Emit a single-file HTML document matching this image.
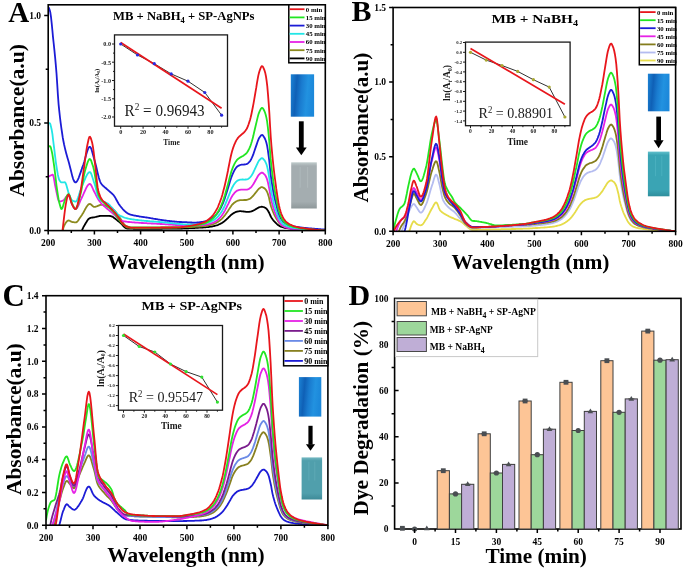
<!DOCTYPE html><html><head><meta charset="utf-8"><style>html,body{margin:0;padding:0;background:#fff;overflow:hidden}svg{display:block;will-change:transform;filter:blur(0.3px)}text{font-family:"Liberation Serif",serif}</style></head><body>
<svg width="685" height="571" viewBox="0 0 685 571">
<rect width="685" height="571" fill="#fff"/>
<clipPath id="clipA"><rect x="48.2" y="4.8" width="277.1" height="225.8"/></clipPath>
<g clip-path="url(#clipA)" fill="none" stroke-width="1.80" stroke-linejoin="round">
<path d="M79.6 241.3L80.3 237.5L81.0 234.1L81.7 231.3L82.4 229.4L83.1 227.8L83.8 226.4L84.5 225.3L85.1 224.2L85.8 223.0L86.5 221.9L87.2 220.8L87.9 219.8L88.6 218.9L89.3 218.4L90.0 218.1L90.7 217.9L91.4 217.7L92.1 217.6L92.8 217.5L93.5 217.4L94.2 217.3L94.8 217.2L95.5 217.0L96.2 216.8L96.9 216.6L97.6 216.5L98.3 216.3L99.0 216.1L99.7 216.0L100.4 215.9L101.1 215.8L101.8 215.8L102.5 215.8L103.2 215.8L103.9 215.8L104.5 215.8L105.2 215.8L105.9 215.8L106.6 215.8L107.3 215.9L108.0 215.9L108.7 215.9L109.4 215.9L110.1 216.0L110.8 216.1L111.5 216.3L112.2 216.6L112.9 216.9L113.5 217.4L114.2 217.9L114.9 218.4L115.6 219.0L116.3 219.5L117.0 220.1L117.7 220.7L118.4 221.3L119.1 221.8L119.8 222.4L120.5 223.0L121.2 223.7L121.9 224.4L122.6 225.1L123.2 225.9L123.9 226.6L124.6 227.2L125.3 227.7L126.0 228.1L126.7 228.4L127.4 228.5L128.1 228.5L128.8 228.6L129.5 228.6L130.2 228.6L130.9 228.7L131.6 228.7L132.3 228.7L132.9 228.7L133.6 228.8L134.3 228.8L135.0 228.8L135.7 228.8L136.4 228.8L137.1 228.9L137.8 228.9L138.5 228.9L139.2 228.9L139.9 228.9L140.6 228.9L141.3 228.9L142.0 228.9L142.6 228.9L143.3 228.9L144.0 228.9L144.7 228.9L145.4 228.9L146.1 228.9L146.8 228.9L147.5 228.9L148.2 228.9L148.9 228.9L149.6 228.9L150.3 228.9L151.0 228.8L151.7 228.8L152.3 228.8L153.0 228.8L153.7 228.8L154.4 228.8L155.1 228.8L155.8 228.8L156.5 228.8L157.2 228.8L157.9 228.8L158.6 228.8L159.3 228.8L160.0 228.8L160.7 228.8L161.3 228.8L162.0 228.8L162.7 228.7L163.4 228.7L164.1 228.7L164.8 228.7L165.5 228.7L166.2 228.7L166.9 228.7L167.6 228.7L168.3 228.7L169.0 228.7L169.7 228.7L170.4 228.7L171.0 228.7L171.7 228.6L172.4 228.6L173.1 228.6L173.8 228.6L174.5 228.6L175.2 228.6L175.9 228.6L176.6 228.6L177.3 228.6L178.0 228.6L178.7 228.6L179.4 228.5L180.1 228.5L180.7 228.5L181.4 228.5L182.1 228.5L182.8 228.4L183.5 228.4L184.2 228.4L184.9 228.4L185.6 228.4L186.3 228.3L187.0 228.3L187.7 228.3L188.4 228.3L189.1 228.2L189.8 228.2L190.4 228.2L191.1 228.2L191.8 228.1L192.5 228.1L193.2 228.1L193.9 228.0L194.6 228.0L195.3 227.9L196.0 227.9L196.7 227.9L197.4 227.8L198.1 227.8L198.8 227.7L199.5 227.7L200.1 227.7L200.8 227.6L201.5 227.6L202.2 227.5L202.9 227.5L203.6 227.4L204.3 227.4L205.0 227.3L205.7 227.3L206.4 227.2L207.1 227.1L207.8 227.1L208.5 227.0L209.1 226.9L209.8 226.8L210.5 226.7L211.2 226.6L211.9 226.5L212.6 226.4L213.3 226.2L214.0 226.1L214.7 225.9L215.4 225.7L216.1 225.5L216.8 225.3L217.5 225.1L218.2 224.8L218.8 224.5L219.5 224.2L220.2 223.9L220.9 223.5L221.6 223.1L222.3 222.7L223.0 222.2L223.7 221.7L224.4 221.2L225.1 220.6L225.8 220.0L226.5 219.4L227.2 218.7L227.9 218.1L228.5 217.4L229.2 216.8L229.9 216.1L230.6 215.4L231.3 214.8L232.0 214.3L232.7 213.8L233.4 213.3L234.1 212.9L234.8 212.5L235.5 212.2L236.2 211.9L236.9 211.7L237.6 211.5L238.2 211.4L238.9 211.3L239.6 211.2L240.3 211.2L241.0 211.2L241.7 211.3L242.4 211.3L243.1 211.4L243.8 211.5L244.5 211.6L245.2 211.7L245.9 211.8L246.6 211.8L247.3 211.9L247.9 211.9L248.6 211.9L249.3 211.8L250.0 211.7L250.7 211.6L251.4 211.4L252.1 211.1L252.8 210.8L253.5 210.5L254.2 210.2L254.9 209.8L255.6 209.3L256.3 208.9L256.9 208.5L257.6 208.1L258.3 207.7L259.0 207.4L259.7 207.2L260.4 207.0L261.1 206.8L261.8 206.7L262.5 206.8L263.2 207.0L263.9 207.2L264.6 207.5L265.3 207.8L266.0 208.3L266.6 208.9L267.3 209.7L268.0 210.7L268.7 212.0L269.4 213.3L270.1 215.0L270.8 216.5L271.5 217.7L272.2 218.7L272.9 219.7L273.6 220.6L274.3 221.4L275.0 222.1L275.7 222.8L276.3 223.4L277.0 224.1L277.7 224.7L278.4 225.3L279.1 225.7L279.8 226.1L280.5 226.5L281.2 226.8L281.9 227.0L282.6 227.2L283.3 227.4L284.0 227.6L284.7 227.8L285.4 227.9L286.0 228.0L286.7 228.1L287.4 228.2L288.1 228.3L288.8 228.3L289.5 228.4L290.2 228.5L290.9 228.5L291.6 228.6L292.3 228.7L293.0 228.7L293.7 228.8L294.4 228.8L295.0 228.9L295.7 228.9L296.4 229.0L297.1 229.0L297.8 229.1L298.5 229.1L299.2 229.1L299.9 229.2L300.6 229.2L301.3 229.3L302.0 229.3L302.7 229.3L303.4 229.4L304.1 229.4L304.7 229.4L305.4 229.5L306.1 229.5L306.8 229.6L307.5 229.6L308.2 229.6L308.9 229.7L309.6 229.7L310.3 229.7L311.0 229.8L311.7 229.8L312.4 229.9L313.1 229.9L313.8 229.9L314.4 230.0L315.1 230.0L315.8 230.0L316.5 230.1L317.2 230.1L317.9 230.2L318.6 230.2L319.3 230.2L320.0 230.3L320.7 230.3L321.4 230.4L322.1 230.4L322.8 230.5L323.5 230.5L324.1 230.5L324.8 230.6" stroke="#000000"/>
<path d="M61.1 241.3L61.8 236.6L62.5 232.1L63.2 228.6L63.9 226.3L64.6 224.9L65.3 223.6L66.0 222.5L66.7 221.6L67.4 220.9L68.1 220.6L68.8 220.5L69.4 220.7L70.1 221.0L70.8 221.4L71.5 221.8L72.2 222.0L72.9 222.1L73.6 222.2L74.3 222.3L75.0 222.4L75.7 222.4L76.4 222.3L77.1 221.8L77.8 221.0L78.5 220.1L79.1 219.0L79.8 217.9L80.5 216.9L81.2 215.9L81.9 214.9L82.6 213.8L83.3 212.7L84.0 211.4L84.7 210.1L85.4 208.8L86.1 207.6L86.8 206.5L87.5 205.5L88.1 204.8L88.8 204.2L89.5 204.0L90.2 204.0L90.9 204.4L91.6 205.0L92.3 205.7L93.0 206.3L93.7 206.8L94.4 206.9L95.1 206.9L95.8 206.7L96.5 206.5L97.2 206.2L97.8 205.9L98.5 205.6L99.2 205.3L99.9 205.0L100.6 204.9L101.3 204.8L102.0 204.8L102.7 204.9L103.4 205.1L104.1 205.3L104.8 205.5L105.5 205.8L106.2 206.1L106.9 206.4L107.5 206.7L108.2 206.9L108.9 207.2L109.6 207.5L110.3 207.8L111.0 208.1L111.7 208.4L112.4 208.8L113.1 209.3L113.8 209.8L114.5 210.5L115.2 211.4L115.9 212.3L116.6 213.2L117.2 214.2L117.9 215.2L118.6 216.2L119.3 217.1L120.0 218.0L120.7 219.0L121.4 220.0L122.1 221.2L122.8 222.3L123.5 223.4L124.2 224.5L124.9 225.5L125.6 226.3L126.2 227.0L126.9 227.4L127.6 227.6L128.3 227.6L129.0 227.7L129.7 227.7L130.4 227.8L131.1 227.8L131.8 227.8L132.5 227.9L133.2 227.9L133.9 227.9L134.6 227.9L135.3 228.0L135.9 228.0L136.6 228.0L137.3 228.0L138.0 228.0L138.7 228.0L139.4 228.0L140.1 228.0L140.8 228.0L141.5 228.0L142.2 228.0L142.9 228.0L143.6 228.0L144.3 228.0L145.0 228.0L145.6 228.0L146.3 228.0L147.0 228.0L147.7 228.0L148.4 228.0L149.1 228.0L149.8 228.0L150.5 227.9L151.2 227.9L151.9 227.9L152.6 227.9L153.3 227.9L154.0 227.9L154.7 227.9L155.3 227.9L156.0 227.9L156.7 227.8L157.4 227.8L158.1 227.8L158.8 227.8L159.5 227.8L160.2 227.8L160.9 227.8L161.6 227.7L162.3 227.7L163.0 227.7L163.7 227.7L164.4 227.7L165.0 227.7L165.7 227.7L166.4 227.6L167.1 227.6L167.8 227.6L168.5 227.6L169.2 227.6L169.9 227.6L170.6 227.6L171.3 227.5L172.0 227.5L172.7 227.5L173.4 227.5L174.0 227.5L174.7 227.5L175.4 227.5L176.1 227.5L176.8 227.5L177.5 227.4L178.2 227.4L178.9 227.4L179.6 227.4L180.3 227.4L181.0 227.4L181.7 227.3L182.4 227.3L183.1 227.3L183.7 227.2L184.4 227.2L185.1 227.2L185.8 227.2L186.5 227.1L187.2 227.1L187.9 227.1L188.6 227.1L189.3 227.0L190.0 227.0L190.7 227.0L191.4 227.0L192.1 226.9L192.8 226.9L193.4 226.9L194.1 226.8L194.8 226.8L195.5 226.7L196.2 226.7L196.9 226.7L197.6 226.6L198.3 226.6L199.0 226.5L199.7 226.5L200.4 226.4L201.1 226.4L201.8 226.3L202.5 226.2L203.1 226.2L203.8 226.1L204.5 226.0L205.2 225.9L205.9 225.8L206.6 225.7L207.3 225.6L208.0 225.5L208.7 225.4L209.4 225.2L210.1 225.0L210.8 224.9L211.5 224.7L212.2 224.5L212.8 224.3L213.5 224.0L214.2 223.7L214.9 223.4L215.6 223.1L216.3 222.8L217.0 222.4L217.7 222.0L218.4 221.6L219.1 221.1L219.8 220.5L220.5 220.0L221.2 219.4L221.8 218.8L222.5 218.0L223.2 217.3L223.9 216.4L224.6 215.6L225.3 214.7L226.0 213.7L226.7 212.7L227.4 211.7L228.1 210.7L228.8 209.6L229.5 208.6L230.2 207.5L230.9 206.5L231.5 205.5L232.2 204.7L232.9 204.0L233.6 203.3L234.3 202.7L235.0 202.2L235.7 201.7L236.4 201.3L237.1 201.0L237.8 200.7L238.5 200.5L239.2 200.4L239.9 200.2L240.6 200.2L241.2 200.1L241.9 200.1L242.6 200.1L243.3 200.1L244.0 200.0L244.7 200.0L245.4 200.0L246.1 200.0L246.8 199.9L247.5 199.7L248.2 199.5L248.9 199.2L249.6 198.9L250.3 198.5L250.9 198.0L251.6 197.4L252.3 196.7L253.0 196.0L253.7 195.2L254.4 194.3L255.1 193.4L255.8 192.5L256.5 191.6L257.2 190.7L257.9 189.8L258.6 189.0L259.3 188.4L260.0 187.9L260.6 187.5L261.3 187.2L262.0 187.1L262.7 187.3L263.4 187.7L264.1 188.1L264.8 188.6L265.5 189.4L266.2 190.3L266.9 191.5L267.6 193.1L268.3 195.3L269.0 197.6L269.6 200.5L270.3 203.6L271.0 206.2L271.7 208.3L272.4 210.2L273.1 212.0L273.8 213.6L274.5 215.1L275.2 216.5L275.9 217.7L276.6 219.0L277.3 220.1L278.0 221.3L278.7 222.3L279.3 223.1L280.0 223.9L280.7 224.5L281.4 225.0L282.1 225.5L282.8 225.8L283.5 226.2L284.2 226.5L284.9 226.7L285.6 226.9L286.3 227.1L287.0 227.3L287.7 227.4L288.4 227.6L289.0 227.7L289.7 227.8L290.4 227.9L291.1 228.0L291.8 228.1L292.5 228.2L293.2 228.3L293.9 228.4L294.6 228.5L295.3 228.6L296.0 228.6L296.7 228.7L297.4 228.8L298.1 228.8L298.7 228.9L299.4 228.9L300.1 229.0L300.8 229.0L301.5 229.1L302.2 229.1L302.9 229.2L303.6 229.2L304.3 229.3L305.0 229.3L305.7 229.4L306.4 229.4L307.1 229.5L307.8 229.5L308.4 229.6L309.1 229.6L309.8 229.7L310.5 229.7L311.2 229.7L311.9 229.8L312.6 229.8L313.3 229.9L314.0 229.9L314.7 230.0L315.4 230.0L316.1 230.0L316.8 230.1L317.4 230.1L318.1 230.2L318.8 230.2L319.5 230.3L320.2 230.3L320.9 230.3L321.6 230.4L322.3 230.4L323.0 230.5L323.7 230.5L324.4 230.5L325.1 230.6" stroke="#8c8a1e"/>
<path d="M48.2 176.8L48.9 176.4L49.6 176.0L50.3 175.7L51.0 175.3L51.7 175.0L52.4 174.7L53.0 174.9L53.7 177.2L54.4 181.1L55.1 185.3L55.8 188.6L56.5 192.0L57.2 195.4L57.9 198.5L58.6 200.7L59.3 201.6L60.0 201.5L60.7 201.4L61.4 201.2L62.1 200.9L62.7 200.6L63.4 200.2L64.1 199.6L64.8 198.8L65.5 197.8L66.2 196.9L66.9 196.1L67.6 195.5L68.3 195.1L69.0 195.5L69.7 197.0L70.4 199.2L71.1 201.6L71.8 203.8L72.4 205.2L73.1 206.4L73.8 207.5L74.5 208.4L75.2 209.0L75.9 209.1L76.6 208.6L77.3 207.6L78.0 206.3L78.7 204.8L79.4 203.1L80.1 201.4L80.8 199.7L81.5 198.3L82.1 197.0L82.8 195.6L83.5 194.0L84.2 192.4L84.9 190.8L85.6 189.3L86.3 187.8L87.0 186.6L87.7 185.5L88.4 184.7L89.1 184.1L89.8 183.9L90.5 184.3L91.2 185.1L91.8 186.4L92.5 187.9L93.2 189.5L93.9 191.0L94.6 192.3L95.3 193.7L96.0 195.1L96.7 196.5L97.4 197.8L98.1 199.1L98.8 200.2L99.5 201.1L100.2 202.0L100.8 202.8L101.5 203.5L102.2 204.3L102.9 205.0L103.6 205.7L104.3 206.3L105.0 206.9L105.7 207.5L106.4 208.1L107.1 208.7L107.8 209.3L108.5 209.8L109.2 210.4L109.9 210.9L110.5 211.5L111.2 212.0L111.9 212.6L112.6 213.2L113.3 213.8L114.0 214.5L114.7 215.1L115.4 215.8L116.1 216.5L116.8 217.2L117.5 217.9L118.2 218.5L118.9 219.1L119.6 219.6L120.2 220.1L120.9 220.5L121.6 220.8L122.3 221.0L123.0 221.1L123.7 221.3L124.4 221.4L125.1 221.5L125.8 221.6L126.5 221.7L127.2 221.8L127.9 221.9L128.6 222.0L129.3 222.0L129.9 222.1L130.6 222.2L131.3 222.2L132.0 222.3L132.7 222.3L133.4 222.4L134.1 222.4L134.8 222.5L135.5 222.6L136.2 222.6L136.9 222.7L137.6 222.7L138.3 222.7L139.0 222.8L139.6 222.8L140.3 222.9L141.0 222.9L141.7 223.0L142.4 223.0L143.1 223.0L143.8 223.1L144.5 223.1L145.2 223.2L145.9 223.2L146.6 223.2L147.3 223.3L148.0 223.3L148.6 223.3L149.3 223.4L150.0 223.4L150.7 223.4L151.4 223.5L152.1 223.5L152.8 223.5L153.5 223.6L154.2 223.6L154.9 223.7L155.6 223.7L156.3 223.7L157.0 223.8L157.7 223.8L158.3 223.8L159.0 223.9L159.7 223.9L160.4 224.0L161.1 224.0L161.8 224.0L162.5 224.1L163.2 224.1L163.9 224.2L164.6 224.2L165.3 224.3L166.0 224.3L166.7 224.3L167.4 224.4L168.0 224.4L168.7 224.5L169.4 224.5L170.1 224.6L170.8 224.6L171.5 224.7L172.2 224.7L172.9 224.8L173.6 224.8L174.3 224.9L175.0 224.9L175.7 225.0L176.4 225.0L177.1 225.1L177.7 225.1L178.4 225.2L179.1 225.2L179.8 225.3L180.5 225.3L181.2 225.3L181.9 225.3L182.6 225.4L183.3 225.4L184.0 225.4L184.7 225.4L185.4 225.4L186.1 225.4L186.8 225.4L187.4 225.4L188.1 225.5L188.8 225.5L189.5 225.5L190.2 225.5L190.9 225.5L191.6 225.5L192.3 225.5L193.0 225.5L193.7 225.5L194.4 225.4L195.1 225.4L195.8 225.4L196.4 225.4L197.1 225.4L197.8 225.3L198.5 225.3L199.2 225.3L199.9 225.2L200.6 225.2L201.3 225.1L202.0 225.1L202.7 225.0L203.4 225.0L204.1 224.9L204.8 224.8L205.5 224.7L206.1 224.6L206.8 224.5L207.5 224.4L208.2 224.2L208.9 224.0L209.6 223.9L210.3 223.7L211.0 223.4L211.7 223.2L212.4 223.0L213.1 222.7L213.8 222.3L214.5 222.0L215.2 221.6L215.8 221.2L216.5 220.7L217.2 220.2L217.9 219.6L218.6 219.0L219.3 218.3L220.0 217.6L220.7 216.8L221.4 216.0L222.1 215.1L222.8 214.1L223.5 213.0L224.2 211.8L224.9 210.6L225.5 209.3L226.2 208.0L226.9 206.6L227.6 205.2L228.3 203.8L229.0 202.3L229.7 200.8L230.4 199.3L231.1 197.9L231.8 196.7L232.5 195.6L233.2 194.6L233.9 193.7L234.5 192.9L235.2 192.2L235.9 191.6L236.6 191.1L237.3 190.6L238.0 190.3L238.7 190.1L239.4 189.9L240.1 189.8L240.8 189.7L241.5 189.6L242.2 189.7L242.9 189.7L243.6 189.7L244.2 189.7L244.9 189.7L245.6 189.7L246.3 189.7L247.0 189.6L247.7 189.4L248.4 189.1L249.1 188.8L249.8 188.3L250.5 187.8L251.2 187.1L251.9 186.2L252.6 185.3L253.3 184.3L253.9 183.2L254.6 182.0L255.3 180.7L256.0 179.5L256.7 178.3L257.4 177.0L258.1 175.8L258.8 174.8L259.5 174.2L260.2 173.5L260.9 173.0L261.6 172.7L262.3 172.7L263.0 173.0L263.6 173.6L264.3 174.2L265.0 175.0L265.7 176.1L266.4 177.5L267.1 179.3L267.8 181.9L268.5 185.0L269.2 188.3L269.9 192.5L270.6 196.7L271.3 200.0L272.0 202.8L272.7 205.3L273.3 207.7L274.0 209.8L274.7 211.8L275.4 213.6L276.1 215.3L276.8 217.0L277.5 218.6L278.2 220.1L278.9 221.5L279.6 222.5L280.3 223.5L281.0 224.3L281.7 224.9L282.3 225.5L283.0 226.0L283.7 226.4L284.4 226.8L285.1 227.1L285.8 227.3L286.5 227.6L287.2 227.8L287.9 228.0L288.6 228.2L289.3 228.3L290.0 228.4L290.7 228.6L291.4 228.7L292.0 228.8L292.7 228.9L293.4 229.0L294.1 229.1L294.8 229.2L295.5 229.3L296.2 229.3L296.9 229.4L297.6 229.5L298.3 229.5L299.0 229.6L299.7 229.6L300.4 229.7L301.1 229.7L301.7 229.8L302.4 229.8L303.1 229.8L303.8 229.9L304.5 229.9L305.2 230.0L305.9 230.0L306.6 230.0L307.3 230.1L308.0 230.1L308.7 230.1L309.4 230.1L310.1 230.2L310.8 230.2L311.4 230.2L312.1 230.3L312.8 230.3L313.5 230.3L314.2 230.3L314.9 230.3L315.6 230.4L316.3 230.4L317.0 230.4L317.7 230.4L318.4 230.5L319.1 230.5L319.8 230.5L320.5 230.5L321.1 230.5L321.8 230.5L322.5 230.6L323.2 230.6L323.9 230.6L324.6 230.6L325.3 230.6" stroke="#e622e6"/>
<path d="M48.2 123.1L48.9 123.1L49.6 123.1L50.3 124.1L51.0 126.7L51.7 129.8L52.4 133.8L53.0 139.1L53.7 144.6L54.4 150.2L55.1 156.2L55.8 161.8L56.5 166.5L57.2 170.8L57.9 174.9L58.6 178.1L59.3 180.1L60.0 181.1L60.7 182.0L61.4 182.4L62.1 182.4L62.7 182.4L63.4 182.3L64.1 182.3L64.8 182.2L65.5 182.9L66.2 184.6L66.9 186.9L67.6 189.6L68.3 192.1L69.0 194.0L69.7 195.7L70.4 197.5L71.1 199.0L71.8 200.1L72.4 200.6L73.1 201.0L73.8 201.2L74.5 201.4L75.2 201.6L75.9 201.5L76.6 200.9L77.3 199.6L78.0 197.8L78.7 195.8L79.4 193.5L80.1 191.3L80.8 189.3L81.5 187.6L82.1 186.1L82.8 184.4L83.5 182.7L84.2 181.0L84.9 179.3L85.6 177.7L86.3 176.2L87.0 174.8L87.7 173.7L88.4 172.9L89.1 172.3L89.8 172.1L90.5 172.6L91.2 173.7L91.8 175.4L92.5 177.5L93.2 179.7L93.9 181.9L94.6 184.0L95.3 186.3L96.0 189.0L96.7 191.8L97.4 194.4L98.1 196.5L98.8 198.0L99.5 198.8L100.2 199.5L100.8 200.0L101.5 200.5L102.2 200.9L102.9 201.2L103.6 201.6L104.3 201.9L105.0 202.2L105.7 202.5L106.4 202.8L107.1 203.2L107.8 203.6L108.5 204.1L109.2 204.7L109.9 205.4L110.5 206.1L111.2 206.8L111.9 207.6L112.6 208.4L113.3 209.3L114.0 210.1L114.7 210.9L115.4 211.7L116.1 212.5L116.8 213.2L117.5 213.9L118.2 214.5L118.9 215.0L119.6 215.4L120.2 215.8L120.9 216.1L121.6 216.4L122.3 216.7L123.0 217.0L123.7 217.3L124.4 217.5L125.1 217.8L125.8 218.0L126.5 218.2L127.2 218.4L127.9 218.5L128.6 218.7L129.3 218.8L129.9 218.9L130.6 219.1L131.3 219.2L132.0 219.3L132.7 219.4L133.4 219.5L134.1 219.6L134.8 219.7L135.5 219.8L136.2 219.9L136.9 220.0L137.6 220.0L138.3 220.1L139.0 220.2L139.6 220.3L140.3 220.4L141.0 220.4L141.7 220.5L142.4 220.6L143.1 220.6L143.8 220.7L144.5 220.8L145.2 220.8L145.9 220.9L146.6 221.0L147.3 221.0L148.0 221.1L148.6 221.1L149.3 221.2L150.0 221.3L150.7 221.3L151.4 221.4L152.1 221.4L152.8 221.5L153.5 221.5L154.2 221.6L154.9 221.6L155.6 221.7L156.3 221.7L157.0 221.8L157.7 221.8L158.3 221.9L159.0 222.0L159.7 222.0L160.4 222.1L161.1 222.1L161.8 222.2L162.5 222.2L163.2 222.3L163.9 222.4L164.6 222.4L165.3 222.5L166.0 222.6L166.7 222.6L167.4 222.7L168.0 222.8L168.7 222.8L169.4 222.9L170.1 223.0L170.8 223.1L171.5 223.1L172.2 223.2L172.9 223.3L173.6 223.4L174.3 223.4L175.0 223.5L175.7 223.6L176.4 223.7L177.1 223.8L177.7 223.8L178.4 223.9L179.1 224.0L179.8 224.0L180.5 224.1L181.2 224.1L181.9 224.2L182.6 224.2L183.3 224.3L184.0 224.3L184.7 224.3L185.4 224.3L186.1 224.4L186.8 224.4L187.4 224.4L188.1 224.4L188.8 224.5L189.5 224.5L190.2 224.5L190.9 224.5L191.6 224.5L192.3 224.5L193.0 224.5L193.7 224.4L194.4 224.4L195.1 224.4L195.8 224.3L196.4 224.3L197.1 224.3L197.8 224.2L198.5 224.2L199.2 224.1L199.9 224.0L200.6 224.0L201.3 223.9L202.0 223.8L202.7 223.7L203.4 223.6L204.1 223.5L204.8 223.4L205.5 223.2L206.1 223.1L206.8 222.9L207.5 222.7L208.2 222.5L208.9 222.3L209.6 222.0L210.3 221.8L211.0 221.5L211.7 221.2L212.4 220.8L213.1 220.4L213.8 220.0L214.5 219.6L215.2 219.0L215.8 218.5L216.5 217.9L217.2 217.3L217.9 216.5L218.6 215.8L219.3 214.9L220.0 214.0L220.7 213.0L221.4 212.0L222.1 210.9L222.8 209.6L223.5 208.3L224.2 206.8L224.9 205.4L225.5 203.8L226.2 202.1L226.9 200.4L227.6 198.7L228.3 196.9L229.0 195.1L229.7 193.3L230.4 191.5L231.1 189.8L231.8 188.3L232.5 187.0L233.2 185.7L233.9 184.6L234.5 183.7L235.2 182.8L235.9 182.0L236.6 181.4L237.3 180.8L238.0 180.4L238.7 180.1L239.4 179.9L240.1 179.7L240.8 179.6L241.5 179.6L242.2 179.5L242.9 179.5L243.6 179.6L244.2 179.6L244.9 179.6L245.6 179.5L246.3 179.5L247.0 179.3L247.7 179.1L248.4 178.7L249.1 178.2L249.8 177.6L250.5 176.9L251.2 176.0L251.9 174.9L252.6 173.8L253.3 172.5L253.9 171.2L254.6 169.7L255.3 168.1L256.0 166.6L256.7 165.1L257.4 163.6L258.1 162.1L258.8 160.9L259.5 160.0L260.2 159.3L260.9 158.6L261.6 158.2L262.3 158.2L263.0 158.6L263.6 159.3L264.3 160.1L265.0 161.1L265.7 162.5L266.4 164.1L267.1 166.4L267.8 169.5L268.5 173.3L269.2 177.5L269.9 182.6L270.6 187.8L271.3 191.8L272.0 195.2L272.7 198.4L273.3 201.3L274.0 204.0L274.7 206.4L275.4 208.6L276.1 210.7L276.8 212.8L277.5 214.7L278.2 216.7L278.9 218.3L279.6 219.6L280.3 220.8L281.0 221.8L281.7 222.6L282.3 223.3L283.0 223.9L283.7 224.4L284.4 224.9L285.1 225.3L285.8 225.6L286.5 225.9L287.2 226.2L287.9 226.4L288.6 226.6L289.3 226.8L290.0 227.0L290.7 227.2L291.4 227.3L292.0 227.5L292.7 227.6L293.4 227.8L294.1 227.9L294.8 228.0L295.5 228.1L296.2 228.2L296.9 228.3L297.6 228.4L298.3 228.5L299.0 228.6L299.7 228.6L300.4 228.7L301.1 228.8L301.7 228.9L302.4 228.9L303.1 229.0L303.8 229.1L304.5 229.1L305.2 229.2L305.9 229.2L306.6 229.3L307.3 229.4L308.0 229.4L308.7 229.5L309.4 229.5L310.1 229.6L310.8 229.6L311.4 229.7L312.1 229.7L312.8 229.8L313.5 229.8L314.2 229.9L314.9 229.9L315.6 230.0L316.3 230.0L317.0 230.1L317.7 230.1L318.4 230.2L319.1 230.2L319.8 230.3L320.5 230.3L321.1 230.4L321.8 230.4L322.5 230.4L323.2 230.5L323.9 230.5L324.6 230.6L325.3 230.6" stroke="#22e6e6"/>
<path d="M48.2 7.0L48.9 7.8L49.6 9.7L50.3 12.3L51.0 17.0L51.7 23.4L52.4 30.5L53.0 37.1L53.7 43.5L54.4 50.2L55.1 57.2L55.8 64.8L56.5 73.2L57.2 83.8L57.9 94.9L58.6 104.3L59.3 111.2L60.0 117.5L60.7 123.2L61.4 128.4L62.1 133.0L62.7 137.2L63.4 141.0L64.1 144.5L64.8 147.6L65.5 150.5L66.2 153.2L66.9 155.7L67.6 158.2L68.3 160.6L69.0 163.0L69.7 165.7L70.4 168.5L71.1 171.3L71.8 174.1L72.4 176.6L73.1 178.8L73.8 180.5L74.5 181.8L75.2 182.4L75.9 182.3L76.6 181.7L77.3 180.7L78.0 179.4L78.7 177.8L79.4 175.9L80.1 173.9L80.8 171.9L81.5 169.9L82.1 167.9L82.8 166.1L83.5 164.2L84.2 161.9L84.9 159.4L85.6 156.8L86.3 154.3L87.0 151.9L87.7 149.9L88.4 148.2L89.1 147.1L89.8 146.8L90.5 147.3L91.2 148.6L91.8 150.6L92.5 153.0L93.2 155.6L93.9 158.1L94.6 160.4L95.3 162.9L96.0 165.8L96.7 168.8L97.4 171.9L98.1 174.8L98.8 177.5L99.5 179.9L100.2 181.8L100.8 183.0L101.5 184.0L102.2 184.9L102.9 185.6L103.6 186.3L104.3 186.9L105.0 187.5L105.7 188.0L106.4 188.7L107.1 189.3L107.8 189.9L108.5 190.5L109.2 191.1L109.9 191.7L110.5 192.3L111.2 192.9L111.9 193.5L112.6 194.1L113.3 194.8L114.0 195.7L114.7 196.7L115.4 197.9L116.1 199.2L116.8 200.5L117.5 201.8L118.2 203.1L118.9 204.2L119.6 205.1L120.2 206.0L120.9 206.8L121.6 207.7L122.3 208.5L123.0 209.3L123.7 210.0L124.4 210.8L125.1 211.4L125.8 212.0L126.5 212.6L127.2 213.1L127.9 213.5L128.6 213.9L129.3 214.1L129.9 214.4L130.6 214.6L131.3 214.8L132.0 215.0L132.7 215.1L133.4 215.3L134.1 215.5L134.8 215.6L135.5 215.7L136.2 215.9L136.9 216.0L137.6 216.1L138.3 216.2L139.0 216.4L139.6 216.5L140.3 216.6L141.0 216.7L141.7 216.8L142.4 216.9L143.1 217.0L143.8 217.1L144.5 217.2L145.2 217.3L145.9 217.4L146.6 217.5L147.3 217.6L148.0 217.7L148.6 217.8L149.3 217.9L150.0 218.1L150.7 218.2L151.4 218.3L152.1 218.4L152.8 218.5L153.5 218.7L154.2 218.8L154.9 218.9L155.6 219.0L156.3 219.1L157.0 219.2L157.7 219.4L158.3 219.5L159.0 219.6L159.7 219.7L160.4 219.8L161.1 219.9L161.8 220.0L162.5 220.1L163.2 220.2L163.9 220.3L164.6 220.4L165.3 220.5L166.0 220.6L166.7 220.7L167.4 220.8L168.0 220.8L168.7 220.9L169.4 221.0L170.1 221.1L170.8 221.2L171.5 221.2L172.2 221.3L172.9 221.4L173.6 221.4L174.3 221.5L175.0 221.6L175.7 221.6L176.4 221.7L177.1 221.8L177.7 221.8L178.4 221.9L179.1 221.9L179.8 222.0L180.5 222.0L181.2 222.0L181.9 222.1L182.6 222.1L183.3 222.1L184.0 222.1L184.7 222.1L185.4 222.2L186.1 222.2L186.8 222.2L187.4 222.3L188.1 222.3L188.8 222.3L189.5 222.4L190.2 222.4L190.9 222.5L191.6 222.5L192.3 222.6L193.0 222.6L193.7 222.6L194.4 222.6L195.1 222.6L195.8 222.6L196.4 222.6L197.1 222.5L197.8 222.5L198.5 222.4L199.2 222.3L199.9 222.2L200.6 222.1L201.3 222.0L202.0 221.9L202.7 221.8L203.4 221.7L204.1 221.6L204.8 221.4L205.5 221.2L206.1 221.0L206.8 220.8L207.5 220.6L208.2 220.3L208.9 220.0L209.6 219.6L210.3 219.3L211.0 218.9L211.7 218.5L212.4 218.1L213.1 217.6L213.8 217.0L214.5 216.4L215.2 215.7L215.8 215.0L216.5 214.3L217.2 213.4L217.9 212.5L218.6 211.5L219.3 210.4L220.0 209.2L220.7 208.0L221.4 206.7L222.1 205.2L222.8 203.6L223.5 201.8L224.2 200.0L224.9 198.1L225.5 196.0L226.2 193.9L226.9 191.7L227.6 189.4L228.3 187.2L229.0 184.9L229.7 182.5L230.4 180.1L231.1 178.0L231.8 176.1L232.5 174.4L233.2 172.8L233.9 171.4L234.5 170.2L235.2 169.1L235.9 168.0L236.6 167.2L237.3 166.5L238.0 166.0L238.7 165.6L239.4 165.3L240.1 165.0L240.8 164.8L241.5 164.7L242.2 164.6L242.9 164.6L243.6 164.6L244.2 164.5L244.9 164.4L245.6 164.3L246.3 164.2L247.0 163.9L247.7 163.5L248.4 162.9L249.1 162.2L249.8 161.4L250.5 160.4L251.2 159.2L251.9 157.7L252.6 156.1L253.3 154.4L253.9 152.5L254.6 150.5L255.3 148.4L256.0 146.4L256.7 144.4L257.4 142.3L258.1 140.3L258.8 138.6L259.5 137.5L260.2 136.5L260.9 135.6L261.6 135.1L262.3 135.0L263.0 135.5L263.6 136.4L264.3 137.5L265.0 138.8L265.7 140.5L266.4 142.7L267.1 145.6L267.8 149.8L268.5 154.8L269.2 160.2L269.9 167.1L270.6 173.9L271.3 179.2L272.0 183.7L272.7 187.8L273.3 191.6L274.0 195.1L274.7 198.3L275.4 201.3L276.1 204.1L276.8 206.7L277.5 209.3L278.2 211.8L278.9 214.0L279.6 215.7L280.3 217.2L281.0 218.5L281.7 219.6L282.3 220.5L283.0 221.3L283.7 222.0L284.4 222.6L285.1 223.1L285.8 223.5L286.5 223.9L287.2 224.2L287.9 224.6L288.6 224.8L289.3 225.1L290.0 225.3L290.7 225.5L291.4 225.7L292.0 225.9L292.7 226.1L293.4 226.3L294.1 226.4L294.8 226.6L295.5 226.7L296.2 226.8L296.9 226.9L297.6 227.0L298.3 227.1L299.0 227.2L299.7 227.3L300.4 227.4L301.1 227.5L301.7 227.6L302.4 227.7L303.1 227.7L303.8 227.8L304.5 227.9L305.2 227.9L305.9 228.0L306.6 228.1L307.3 228.2L308.0 228.2L308.7 228.3L309.4 228.3L310.1 228.4L310.8 228.5L311.4 228.5L312.1 228.6L312.8 228.6L313.5 228.7L314.2 228.7L314.9 228.8L315.6 228.9L316.3 228.9L317.0 229.0L317.7 229.0L318.4 229.1L319.1 229.1L319.8 229.2L320.5 229.2L321.1 229.3L321.8 229.3L322.5 229.4L323.2 229.4L323.9 229.4L324.6 229.5L325.3 229.5" stroke="#1c1cd6"/>
<path d="M48.2 146.8L48.9 146.3L49.6 146.1L50.3 146.3L51.0 148.1L51.7 151.1L52.4 154.3L53.0 158.3L53.7 162.9L54.4 167.8L55.1 173.6L55.8 179.7L56.5 185.6L57.2 190.5L57.9 195.2L58.6 199.4L59.3 202.7L60.0 205.3L60.7 207.7L61.4 209.0L62.1 208.7L62.7 207.2L63.4 204.8L64.1 202.4L64.8 200.5L65.5 198.9L66.2 197.3L66.9 195.8L67.6 194.7L68.3 194.1L69.0 194.4L69.7 196.0L70.4 198.3L71.1 200.8L71.8 202.7L72.4 204.1L73.1 205.7L73.8 207.1L74.5 208.2L75.2 209.0L75.9 209.0L76.6 208.2L77.3 206.6L78.0 204.3L78.7 201.7L79.4 198.8L80.1 195.9L80.8 193.1L81.5 189.8L82.1 186.0L82.8 181.9L83.5 177.9L84.2 174.3L84.9 171.2L85.6 168.8L86.3 166.5L87.0 164.2L87.7 162.1L88.4 160.5L89.1 159.4L89.8 159.0L90.5 159.5L91.2 160.8L91.8 162.6L92.5 164.7L93.2 166.8L93.9 169.7L94.6 173.4L95.3 177.5L96.0 181.8L96.7 186.1L97.4 190.0L98.1 193.3L98.8 195.7L99.5 197.1L100.2 198.3L100.8 199.3L101.5 200.3L102.2 201.1L102.9 201.8L103.6 202.5L104.3 203.2L105.0 203.9L105.7 204.6L106.4 205.3L107.1 206.0L107.8 206.6L108.5 207.2L109.2 207.8L109.9 208.4L110.5 209.1L111.2 209.7L111.9 210.3L112.6 211.0L113.3 211.8L114.0 212.6L114.7 213.4L115.4 214.4L116.1 215.4L116.8 216.4L117.5 217.4L118.2 218.4L118.9 219.4L119.6 220.4L120.2 221.3L120.9 222.2L121.6 223.0L122.3 223.7L123.0 224.3L123.7 224.8L124.4 225.2L125.1 225.5L125.8 225.9L126.5 226.2L127.2 226.5L127.9 226.7L128.6 226.9L129.3 227.1L129.9 227.3L130.6 227.3L131.3 227.4L132.0 227.4L132.7 227.4L133.4 227.4L134.1 227.4L134.8 227.4L135.5 227.4L136.2 227.4L136.9 227.4L137.6 227.4L138.3 227.4L139.0 227.4L139.6 227.4L140.3 227.4L141.0 227.4L141.7 227.4L142.4 227.4L143.1 227.4L143.8 227.4L144.5 227.4L145.2 227.4L145.9 227.4L146.6 227.4L147.3 227.4L148.0 227.4L148.6 227.4L149.3 227.4L150.0 227.4L150.7 227.4L151.4 227.4L152.1 227.4L152.8 227.4L153.5 227.4L154.2 227.4L154.9 227.4L155.6 227.4L156.3 227.4L157.0 227.4L157.7 227.4L158.3 227.4L159.0 227.4L159.7 227.4L160.4 227.4L161.1 227.4L161.8 227.4L162.5 227.4L163.2 227.4L163.9 227.4L164.6 227.4L165.3 227.4L166.0 227.4L166.7 227.4L167.4 227.4L168.0 227.4L168.7 227.4L169.4 227.4L170.1 227.4L170.8 227.4L171.5 227.4L172.2 227.4L172.9 227.4L173.6 227.4L174.3 227.4L175.0 227.4L175.7 227.4L176.4 227.4L177.1 227.4L177.7 227.4L178.4 227.4L179.1 227.3L179.8 227.3L180.5 227.3L181.2 227.2L181.9 227.1L182.6 227.1L183.3 227.0L184.0 226.9L184.7 226.9L185.4 226.8L186.1 226.7L186.8 226.7L187.4 226.6L188.1 226.5L188.8 226.4L189.5 226.4L190.2 226.3L190.9 226.2L191.6 226.1L192.3 226.0L193.0 225.9L193.7 225.8L194.4 225.7L195.1 225.6L195.8 225.5L196.4 225.4L197.1 225.2L197.8 225.1L198.5 225.0L199.2 224.8L199.9 224.7L200.6 224.5L201.3 224.4L202.0 224.2L202.7 224.0L203.4 223.8L204.1 223.6L204.8 223.3L205.5 223.1L206.1 222.8L206.8 222.5L207.5 222.1L208.2 221.7L208.9 221.3L209.6 220.9L210.3 220.4L211.0 219.9L211.7 219.4L212.4 218.8L213.1 218.2L213.8 217.5L214.5 216.7L215.2 215.9L215.8 215.0L216.5 214.1L217.2 213.1L217.9 212.0L218.6 210.8L219.3 209.5L220.0 208.1L220.7 206.7L221.4 205.1L222.1 203.4L222.8 201.6L223.5 199.5L224.2 197.4L224.9 195.2L225.5 192.9L226.2 190.5L226.9 188.0L227.6 185.4L228.3 182.9L229.0 180.3L229.7 177.5L230.4 174.9L231.1 172.4L231.8 170.3L232.5 168.4L233.2 166.7L233.9 165.1L234.5 163.8L235.2 162.6L235.9 161.4L236.6 160.4L237.3 159.6L238.0 159.0L238.7 158.4L239.4 158.0L240.1 157.5L240.8 157.1L241.5 156.7L242.2 156.3L242.9 156.0L243.6 155.6L244.2 155.1L244.9 154.6L245.6 154.0L246.3 153.3L247.0 152.6L247.7 151.5L248.4 150.3L249.1 148.9L249.8 147.4L250.5 145.6L251.2 143.5L251.9 141.2L252.6 138.7L253.3 136.1L253.9 133.3L254.6 130.3L255.3 127.2L256.0 124.3L256.7 121.4L257.4 118.4L258.1 115.6L258.8 113.3L259.5 111.6L260.2 110.1L260.9 108.8L261.6 108.0L262.3 107.9L263.0 108.5L263.6 109.5L264.3 110.8L265.0 112.5L265.7 114.7L266.4 117.6L267.1 121.4L267.8 126.8L268.5 133.4L269.2 140.5L269.9 149.5L270.6 158.4L271.3 165.3L272.0 171.2L272.7 176.6L273.3 181.7L274.0 186.3L274.7 190.5L275.4 194.3L276.1 198.0L276.8 201.4L277.5 204.9L278.2 208.1L278.9 211.0L279.6 213.2L280.3 215.2L281.0 216.9L281.7 218.3L282.3 219.5L283.0 220.5L283.7 221.4L284.4 222.1L285.1 222.8L285.8 223.4L286.5 223.8L287.2 224.3L287.9 224.7L288.6 225.0L289.3 225.4L290.0 225.6L290.7 225.9L291.4 226.1L292.0 226.4L292.7 226.6L293.4 226.8L294.1 227.0L294.8 227.2L295.5 227.3L296.2 227.5L296.9 227.6L297.6 227.7L298.3 227.9L299.0 228.0L299.7 228.1L300.4 228.2L301.1 228.3L301.7 228.4L302.4 228.5L303.1 228.5L303.8 228.6L304.5 228.7L305.2 228.8L305.9 228.9L306.6 229.0L307.3 229.0L308.0 229.1L308.7 229.2L309.4 229.2L310.1 229.3L310.8 229.4L311.4 229.4L312.1 229.5L312.8 229.6L313.5 229.6L314.2 229.7L314.9 229.8L315.6 229.8L316.3 229.9L317.0 230.0L317.7 230.0L318.4 230.1L319.1 230.1L319.8 230.2L320.5 230.2L321.1 230.3L321.8 230.4L322.5 230.4L323.2 230.5L323.9 230.5L324.6 230.6L325.3 230.6" stroke="#22e622"/>
<path d="M60.2 252.1L60.9 245.2L61.6 238.6L62.3 232.3L63.0 226.3L63.7 220.3L64.4 214.4L65.1 209.0L65.7 204.8L66.4 201.2L67.1 197.9L67.8 195.4L68.5 194.5L69.2 195.3L69.9 197.5L70.6 200.1L71.3 202.6L72.0 204.2L72.7 205.6L73.4 206.9L74.1 208.0L74.8 208.8L75.4 209.1L76.1 208.5L76.8 207.0L77.5 204.8L78.2 202.1L78.9 199.2L79.6 196.2L80.3 192.9L81.0 188.8L81.7 184.2L82.4 179.2L83.1 174.2L83.8 169.2L84.5 164.5L85.1 159.6L85.8 154.5L86.5 149.7L87.2 145.7L87.9 142.5L88.6 139.3L89.3 137.1L90.0 136.7L90.7 137.9L91.4 140.0L92.1 142.4L92.8 145.9L93.5 150.7L94.2 156.4L94.8 162.3L95.5 168.0L96.2 174.6L96.9 181.5L97.6 187.2L98.3 190.7L99.0 193.1L99.7 195.2L100.4 196.9L101.1 198.3L101.8 199.4L102.5 200.3L103.2 201.1L103.9 201.7L104.5 202.3L105.2 202.9L105.9 203.5L106.6 204.2L107.3 204.9L108.0 205.5L108.7 206.2L109.4 206.9L110.1 207.6L110.8 208.2L111.5 208.9L112.2 209.6L112.9 210.4L113.5 211.1L114.2 211.8L114.9 212.6L115.6 213.4L116.3 214.3L117.0 215.2L117.7 216.3L118.4 217.4L119.1 218.5L119.8 219.6L120.5 220.7L121.2 221.8L121.9 222.8L122.6 223.6L123.2 224.4L123.9 224.9L124.6 225.3L125.3 225.7L126.0 226.1L126.7 226.4L127.4 226.7L128.1 227.0L128.8 227.2L129.5 227.4L130.2 227.5L130.9 227.6L131.6 227.6L132.3 227.6L132.9 227.6L133.6 227.6L134.3 227.6L135.0 227.6L135.7 227.6L136.4 227.6L137.1 227.6L137.8 227.6L138.5 227.6L139.2 227.6L139.9 227.6L140.6 227.6L141.3 227.6L142.0 227.6L142.6 227.6L143.3 227.6L144.0 227.6L144.7 227.6L145.4 227.6L146.1 227.6L146.8 227.6L147.5 227.6L148.2 227.6L148.9 227.6L149.6 227.6L150.3 227.6L151.0 227.6L151.7 227.6L152.3 227.6L153.0 227.6L153.7 227.6L154.4 227.6L155.1 227.6L155.8 227.6L156.5 227.6L157.2 227.6L157.9 227.6L158.6 227.6L159.3 227.6L160.0 227.6L160.7 227.5L161.3 227.5L162.0 227.5L162.7 227.5L163.4 227.5L164.1 227.5L164.8 227.5L165.5 227.5L166.2 227.5L166.9 227.5L167.6 227.5L168.3 227.5L169.0 227.5L169.7 227.5L170.4 227.5L171.0 227.5L171.7 227.5L172.4 227.4L173.1 227.4L173.8 227.4L174.5 227.4L175.2 227.4L175.9 227.4L176.6 227.4L177.3 227.4L178.0 227.4L178.7 227.4L179.4 227.3L180.1 227.3L180.7 227.2L181.4 227.1L182.1 227.0L182.8 227.0L183.5 226.9L184.2 226.8L184.9 226.7L185.6 226.6L186.3 226.5L187.0 226.4L187.7 226.3L188.4 226.2L189.1 226.1L189.8 226.0L190.4 225.9L191.1 225.7L191.8 225.6L192.5 225.5L193.2 225.4L193.9 225.2L194.6 225.1L195.3 224.9L196.0 224.8L196.7 224.6L197.4 224.4L198.1 224.3L198.8 224.1L199.5 223.9L200.1 223.7L200.8 223.5L201.5 223.2L202.2 223.0L202.9 222.7L203.6 222.4L204.3 222.1L205.0 221.8L205.7 221.5L206.4 221.1L207.1 220.6L207.8 220.1L208.5 219.6L209.1 219.0L209.8 218.4L210.5 217.8L211.2 217.1L211.9 216.4L212.6 215.6L213.3 214.8L214.0 213.8L214.7 212.8L215.4 211.6L216.1 210.4L216.8 209.2L217.5 207.8L218.2 206.3L218.8 204.7L219.5 203.0L220.2 201.1L220.9 199.2L221.6 197.2L222.3 194.9L223.0 192.3L223.7 189.6L224.4 186.9L225.1 184.0L225.8 180.9L226.5 177.7L227.2 174.4L227.9 171.0L228.5 167.7L229.2 164.3L229.9 160.7L230.6 157.3L231.3 154.2L232.0 151.6L232.7 149.3L233.4 147.1L234.1 145.2L234.8 143.6L235.5 142.0L236.2 140.6L236.9 139.4L237.6 138.4L238.2 137.6L238.9 136.9L239.6 136.2L240.3 135.6L241.0 135.0L241.7 134.4L242.4 133.8L243.1 133.2L243.8 132.6L244.5 131.8L245.2 131.0L245.9 130.0L246.6 129.0L247.3 127.7L247.9 126.1L248.6 124.2L249.3 122.1L250.0 119.9L250.7 117.3L251.4 114.2L252.1 110.8L252.8 107.3L253.5 103.6L254.2 99.7L254.9 95.5L255.6 91.3L256.3 87.4L256.9 83.3L257.6 79.3L258.3 75.6L259.0 72.7L259.7 70.5L260.4 68.6L261.1 67.0L261.8 66.1L262.5 66.3L263.2 67.3L263.9 68.9L264.6 70.7L265.3 73.1L266.0 76.5L266.6 80.6L267.3 86.4L268.0 94.4L268.7 103.4L269.4 113.7L270.1 126.2L270.8 137.5L271.5 146.2L272.2 153.8L272.9 161.0L273.6 167.6L274.3 173.5L275.0 179.0L275.7 184.1L276.3 188.9L277.0 193.5L277.7 198.1L278.4 202.4L279.1 205.9L279.8 208.8L280.5 211.3L281.2 213.5L281.9 215.2L282.6 216.7L283.3 218.0L284.0 219.2L284.7 220.1L285.4 221.0L286.0 221.7L286.7 222.3L287.4 222.8L288.1 223.4L288.8 223.8L289.5 224.2L290.2 224.6L290.9 224.9L291.6 225.2L292.3 225.5L293.0 225.8L293.7 226.1L294.4 226.3L295.0 226.5L295.7 226.7L296.4 226.9L297.1 227.1L297.8 227.2L298.5 227.4L299.2 227.5L299.9 227.7L300.6 227.8L301.3 227.9L302.0 228.0L302.7 228.1L303.4 228.2L304.1 228.3L304.7 228.4L305.4 228.5L306.1 228.6L306.8 228.7L307.5 228.8L308.2 228.9L308.9 229.0L309.6 229.1L310.3 229.1L311.0 229.2L311.7 229.3L312.4 229.4L313.1 229.5L313.8 229.5L314.4 229.6L315.1 229.7L315.8 229.8L316.5 229.8L317.2 229.9L317.9 230.0L318.6 230.0L319.3 230.1L320.0 230.2L320.7 230.2L321.4 230.3L322.1 230.4L322.8 230.4L323.5 230.5L324.1 230.5L324.8 230.6" stroke="#e8161c"/>
</g>
<rect x="48.2" y="4.8" width="277.1" height="225.8" fill="none" stroke="#000" stroke-width="1.6"/>
<path d="M48.2 230.6V234.6M71.3 230.6V233.1M94.4 230.6V234.6M117.5 230.6V233.1M140.6 230.6V234.6M163.7 230.6V233.1M186.8 230.6V234.6M209.8 230.6V233.1M232.9 230.6V234.6M256.0 230.6V233.1M279.1 230.6V234.6M302.2 230.6V233.1M325.3 230.6V234.6M48.2 230.6H44.2M48.2 123.1H44.2M48.2 15.6H44.2M48.2 176.8H45.7M48.2 69.3H45.7" stroke="#000" stroke-width="1.5" fill="none"/>
<text x="48.2" y="246.0" font-size="9.50" font-weight="bold" text-anchor="middle" fill="#000" >200</text>
<text x="94.4" y="246.0" font-size="9.50" font-weight="bold" text-anchor="middle" fill="#000" >300</text>
<text x="140.6" y="246.0" font-size="9.50" font-weight="bold" text-anchor="middle" fill="#000" >400</text>
<text x="186.8" y="246.0" font-size="9.50" font-weight="bold" text-anchor="middle" fill="#000" >500</text>
<text x="232.9" y="246.0" font-size="9.50" font-weight="bold" text-anchor="middle" fill="#000" >600</text>
<text x="279.1" y="246.0" font-size="9.50" font-weight="bold" text-anchor="middle" fill="#000" >700</text>
<text x="325.3" y="246.0" font-size="9.50" font-weight="bold" text-anchor="middle" fill="#000" >800</text>
<text x="41.0" y="233.9" font-size="9.50" font-weight="bold" text-anchor="end" fill="#000" >0.0</text>
<text x="41.0" y="126.4" font-size="9.50" font-weight="bold" text-anchor="end" fill="#000" >0.5</text>
<text x="41.0" y="18.9" font-size="9.50" font-weight="bold" text-anchor="end" fill="#000" >1.0</text>
<text x="185.9" y="269.2" font-size="21.00" font-weight="bold" text-anchor="middle" fill="#000" textLength="157.5" lengthAdjust="spacingAndGlyphs" >Wavelength (nm)</text>
<text x="0" y="0" font-size="21.00" font-weight="bold" text-anchor="middle" textLength="152.5" lengthAdjust="spacingAndGlyphs" transform="translate(24.0 120.4) rotate(-90)">Absorbance(a.u)</text>
<text x="8.2" y="22.3" font-size="29.00" font-weight="bold" text-anchor="start" fill="#000" >A</text>
<text x="113.0" y="20.2" font-size="13.5" font-weight="bold" textLength="141.5" lengthAdjust="spacingAndGlyphs">MB + NaBH<tspan font-size="9" dy="3">4</tspan><tspan dy="-3"> + SP-AgNPs</tspan></text>
<rect x="288.8" y="4.8" width="36.5" height="58.0" fill="#fff" stroke="#000" stroke-width="1.5"/>
<path d="M289.6 9.2H304.5" stroke="#e8161c" stroke-width="1.8"/>
<text x="305.8" y="11.6" font-size="6.80" font-weight="bold" text-anchor="start" fill="#000" >0 min</text>
<path d="M289.6 17.4H304.5" stroke="#22e622" stroke-width="1.8"/>
<text x="305.8" y="19.8" font-size="6.80" font-weight="bold" text-anchor="start" fill="#000" >15 min</text>
<path d="M289.6 25.6H304.5" stroke="#1c1cd6" stroke-width="1.8"/>
<text x="305.8" y="28.0" font-size="6.80" font-weight="bold" text-anchor="start" fill="#000" >30 min</text>
<path d="M289.6 33.8H304.5" stroke="#22e6e6" stroke-width="1.8"/>
<text x="305.8" y="36.2" font-size="6.80" font-weight="bold" text-anchor="start" fill="#000" >45 min</text>
<path d="M289.6 42.0H304.5" stroke="#e622e6" stroke-width="1.8"/>
<text x="305.8" y="44.4" font-size="6.80" font-weight="bold" text-anchor="start" fill="#000" >60 min</text>
<path d="M289.6 50.2H304.5" stroke="#8c8a1e" stroke-width="1.8"/>
<text x="305.8" y="52.6" font-size="6.80" font-weight="bold" text-anchor="start" fill="#000" >75 min</text>
<path d="M289.6 58.4H304.5" stroke="#000000" stroke-width="1.8"/>
<text x="305.8" y="60.8" font-size="6.80" font-weight="bold" text-anchor="start" fill="#000" >90 min</text>
<defs><linearGradient id="blA" x1="0" x2="1" y1="0" y2="0.15"><stop offset="0" stop-color="#1c84d6"/><stop offset="0.28" stop-color="#0f60b6"/><stop offset="0.5" stop-color="#1a7cd0"/><stop offset="0.75" stop-color="#2292e0"/><stop offset="1" stop-color="#1c88da"/></linearGradient><linearGradient id="grA" x1="0" x2="0" y1="0" y2="1"><stop offset="0" stop-color="#c0cccc"/><stop offset="0.08" stop-color="#a4adb0"/><stop offset="0.85" stop-color="#a4adb0"/><stop offset="1" stop-color="#8e989a"/></linearGradient></defs><rect x="290.8" y="74.3" width="23.3" height="42.4" fill="url(#blA)"/><rect x="298.9" y="121.3" width="4.8" height="26.7" fill="#000"/><path d="M295.9 147.5H306.7L301.3 155.3Z" fill="#000"/><rect x="291.2" y="162.3" width="25.6" height="46.2" fill="url(#grA)"/><rect x="299.6" y="166.9" width="1" height="20.8" fill="#c0cccc" opacity="0.4"/><rect x="307.1" y="166.9" width="1" height="20.8" fill="#c0cccc" opacity="0.4"/>
<rect x="114.5" y="34.9" width="113.0" height="91.3" fill="#fff" stroke="#1a1a1a" stroke-width="1.3"/><path d="M120.7 126.2V128.7M131.9 126.2V127.7M143.1 126.2V128.7M154.3 126.2V127.7M165.6 126.2V128.7M176.8 126.2V127.7M188.0 126.2V128.7M199.2 126.2V127.7M210.4 126.2V128.7M221.6 126.2V127.7M114.5 44.0H112.0M114.5 62.2H112.0M114.5 80.5H112.0M114.5 98.8H112.0M114.5 117.0H112.0M114.5 53.1H113.0M114.5 71.4H113.0M114.5 89.6H113.0M114.5 107.9H113.0" stroke="#1a1a1a" stroke-width="1" fill="none"/><text x="120.7" y="133.8" font-size="6.2" font-weight="bold" text-anchor="middle" fill="#222">0</text><text x="143.1" y="133.8" font-size="6.2" font-weight="bold" text-anchor="middle" fill="#222">20</text><text x="165.6" y="133.8" font-size="6.2" font-weight="bold" text-anchor="middle" fill="#222">40</text><text x="188.0" y="133.8" font-size="6.2" font-weight="bold" text-anchor="middle" fill="#222">60</text><text x="210.4" y="133.8" font-size="6.2" font-weight="bold" text-anchor="middle" fill="#222">80</text><text x="111.0" y="46.2" font-size="6.2" font-weight="bold" text-anchor="end" fill="#222">0.0</text><text x="111.0" y="64.5" font-size="6.2" font-weight="bold" text-anchor="end" fill="#222">-0.5</text><text x="111.0" y="82.7" font-size="6.2" font-weight="bold" text-anchor="end" fill="#222">-1.0</text><text x="111.0" y="101.0" font-size="6.2" font-weight="bold" text-anchor="end" fill="#222">-1.5</text><text x="111.0" y="119.2" font-size="6.2" font-weight="bold" text-anchor="end" fill="#222">-2.0</text><path d="M120.7 44.0 L137.5 55.0 L154.3 63.7 L171.2 73.9 L188.0 81.2 L204.8 92.5 L221.6 115.2" stroke="#333" stroke-width="1" fill="none"/><path d="M120.7 42.5L221.6 108.2" stroke="#e8161c" stroke-width="1.7"/><circle cx="120.7" cy="44.0" r="1.6" fill="#2a2ae0"/><circle cx="137.5" cy="55.0" r="1.6" fill="#2a2ae0"/><circle cx="154.3" cy="63.7" r="1.6" fill="#2a2ae0"/><circle cx="171.2" cy="73.9" r="1.6" fill="#2a2ae0"/><circle cx="188.0" cy="81.2" r="1.6" fill="#2a2ae0"/><circle cx="204.8" cy="92.5" r="1.6" fill="#2a2ae0"/><circle cx="221.6" cy="115.2" r="1.6" fill="#2a2ae0"/><text x="124.6" y="115.9" font-size="16.0" font-weight="normal" fill="#1a1a1a" textLength="80.0" lengthAdjust="spacingAndGlyphs">R<tspan font-size="9.9" dy="-5.8">2</tspan><tspan dy="5.8"> = 0.96943</tspan></text><text x="0" y="0" font-size="6.5" font-weight="bold" text-anchor="middle" fill="#1a1a1a" textLength="24.0" lengthAdjust="spacingAndGlyphs" transform="translate(98.5 80.8) rotate(-90)">ln(A<tspan font-size="3.6" dy="1.2">t</tspan><tspan dy="-1.2">/A</tspan><tspan font-size="3.6" dy="1.2">0</tspan><tspan dy="-1.2">)</tspan></text><text x="171.5" y="144.6" font-size="8.5" font-weight="bold" text-anchor="middle" fill="#1a1a1a" textLength="16.5" lengthAdjust="spacingAndGlyphs">Time</text>
<clipPath id="clipB"><rect x="393.1" y="7.5" width="282.5" height="223.8"/></clipPath>
<g clip-path="url(#clipB)" fill="none" stroke-width="1.80" stroke-linejoin="round">
<path d="M407.2 234.3L407.9 233.3L408.6 232.2L409.3 230.8L410.1 228.9L410.8 226.8L411.5 224.9L412.2 223.4L412.9 222.1L413.6 221.2L414.3 221.3L415.0 222.0L415.7 222.9L416.4 223.7L417.1 224.1L417.8 224.5L418.5 224.8L419.2 225.0L419.9 225.2L420.6 225.3L421.4 225.2L422.1 224.8L422.8 224.1L423.5 223.2L424.2 222.2L424.9 221.1L425.6 220.0L426.3 219.0L427.0 217.9L427.7 216.6L428.4 215.2L429.1 213.8L429.8 212.4L430.5 211.0L431.2 209.7L431.9 208.5L432.7 207.2L433.4 205.8L434.1 204.5L434.8 203.4L435.5 202.6L436.2 202.4L436.9 202.9L437.6 204.3L438.3 206.2L439.0 208.1L439.7 209.7L440.4 210.7L441.1 211.4L441.8 212.0L442.5 212.6L443.2 213.1L444.0 213.6L444.7 214.0L445.4 214.4L446.1 214.8L446.8 215.2L447.5 215.5L448.2 215.9L448.9 216.3L449.6 216.6L450.3 217.0L451.0 217.3L451.7 217.6L452.4 217.9L453.1 218.2L453.8 218.5L454.5 218.8L455.2 219.1L456.0 219.4L456.7 219.6L457.4 219.9L458.1 220.2L458.8 220.6L459.5 220.9L460.2 221.2L460.9 221.6L461.6 222.0L462.3 222.5L463.0 223.1L463.7 223.7L464.4 224.3L465.1 225.0L465.8 225.6L466.6 226.3L467.3 226.9L468.0 227.5L468.7 228.1L469.4 228.6L470.1 229.0L470.8 229.4L471.5 229.6L472.2 229.8L472.9 229.8L473.6 229.8L474.3 229.8L475.0 229.8L475.7 229.8L476.4 229.8L477.1 229.8L477.9 229.7L478.6 229.7L479.3 229.7L480.0 229.7L480.7 229.7L481.4 229.7L482.1 229.6L482.8 229.6L483.5 229.6L484.2 229.6L484.9 229.6L485.6 229.5L486.3 229.5L487.0 229.5L487.7 229.5L488.4 229.5L489.2 229.5L489.9 229.5L490.6 229.4L491.3 229.4L492.0 229.4L492.7 229.4L493.4 229.4L494.1 229.4L494.8 229.4L495.5 229.4L496.2 229.3L496.9 229.3L497.6 229.3L498.3 229.3L499.0 229.3L499.7 229.3L500.5 229.3L501.2 229.2L501.9 229.2L502.6 229.2L503.3 229.2L504.0 229.2L504.7 229.2L505.4 229.2L506.1 229.2L506.8 229.1L507.5 229.1L508.2 229.1L508.9 229.1L509.6 229.1L510.3 229.1L511.0 229.1L511.8 229.0L512.5 229.0L513.2 229.0L513.9 229.0L514.6 229.0L515.3 229.0L516.0 228.9L516.7 228.9L517.4 228.9L518.1 228.9L518.8 228.9L519.5 228.8L520.2 228.8L520.9 228.8L521.6 228.8L522.3 228.8L523.1 228.7L523.8 228.7L524.5 228.7L525.2 228.7L525.9 228.6L526.6 228.6L527.3 228.6L528.0 228.5L528.7 228.5L529.4 228.5L530.1 228.4L530.8 228.4L531.5 228.3L532.2 228.3L532.9 228.2L533.6 228.2L534.4 228.1L535.1 228.1L535.8 228.0L536.5 228.0L537.2 228.0L537.9 227.9L538.6 227.9L539.3 227.8L540.0 227.8L540.7 227.7L541.4 227.7L542.1 227.6L542.8 227.6L543.5 227.6L544.2 227.5L544.9 227.5L545.7 227.4L546.4 227.4L547.1 227.3L547.8 227.2L548.5 227.2L549.2 227.1L549.9 227.0L550.6 226.9L551.3 226.9L552.0 226.8L552.7 226.7L553.4 226.6L554.1 226.5L554.8 226.3L555.5 226.2L556.2 226.0L557.0 225.9L557.7 225.7L558.4 225.5L559.1 225.3L559.8 225.1L560.5 224.8L561.2 224.6L561.9 224.3L562.6 224.0L563.3 223.6L564.0 223.3L564.7 222.9L565.4 222.5L566.1 222.0L566.8 221.5L567.5 221.0L568.2 220.4L569.0 219.8L569.7 219.1L570.4 218.4L571.1 217.6L571.8 216.8L572.5 215.9L573.2 214.9L573.9 214.0L574.6 212.9L575.3 211.9L576.0 210.8L576.7 209.7L577.4 208.6L578.1 207.4L578.8 206.3L579.6 205.3L580.3 204.4L581.0 203.5L581.7 202.8L582.4 202.1L583.1 201.6L583.8 201.0L584.5 200.6L585.2 200.1L585.9 199.8L586.6 199.5L587.3 199.3L588.0 199.1L588.7 199.0L589.4 198.8L590.1 198.7L590.9 198.6L591.6 198.5L592.3 198.4L593.0 198.2L593.7 198.1L594.4 197.9L595.1 197.7L595.8 197.5L596.5 197.1L597.2 196.7L597.9 196.2L598.6 195.6L599.3 195.0L600.0 194.2L600.7 193.3L601.4 192.4L602.2 191.4L602.9 190.3L603.6 189.1L604.3 188.0L605.0 186.8L605.7 185.7L606.4 184.5L607.1 183.4L607.8 182.5L608.5 181.9L609.2 181.3L609.9 180.8L610.6 180.5L611.3 180.4L612.0 180.7L612.7 181.2L613.5 181.7L614.2 182.4L614.9 183.3L615.6 184.5L616.3 186.0L617.0 188.2L617.7 190.9L618.4 193.7L619.1 197.4L619.8 201.0L620.5 203.8L621.2 206.2L621.9 208.3L622.6 210.4L623.3 212.3L624.0 213.9L624.8 215.5L625.5 217.0L626.2 218.4L626.9 219.8L627.6 221.1L628.3 222.3L629.0 223.2L629.7 224.0L630.4 224.7L631.1 225.3L631.8 225.8L632.5 226.2L633.2 226.6L633.9 226.9L634.6 227.2L635.3 227.4L636.0 227.6L636.8 227.8L637.5 228.0L638.2 228.1L638.9 228.3L639.6 228.4L640.3 228.5L641.0 228.6L641.7 228.7L642.4 228.9L643.1 228.9L643.8 229.0L644.5 229.1L645.2 229.2L645.9 229.3L646.6 229.4L647.4 229.4L648.1 229.5L648.8 229.5L649.5 229.6L650.2 229.7L650.9 229.7L651.6 229.8L652.3 229.8L653.0 229.9L653.7 229.9L654.4 230.0L655.1 230.0L655.8 230.1L656.5 230.1L657.2 230.2L657.9 230.2L658.7 230.3L659.4 230.3L660.1 230.4L660.8 230.4L661.5 230.4L662.2 230.5L662.9 230.5L663.6 230.6L664.3 230.6L665.0 230.7L665.7 230.7L666.4 230.8L667.1 230.8L667.8 230.8L668.5 230.9L669.2 230.9L670.0 231.0L670.7 231.0L671.4 231.1L672.1 231.1L672.8 231.1L673.5 231.2L674.2 231.2L674.9 231.3L675.6 231.3" stroke="#e6dc4a"/>
<path d="M400.2 234.3L400.9 232.8L401.6 231.3L402.3 229.7L403.0 228.0L403.7 226.2L404.4 224.2L405.1 222.1L405.8 219.9L406.5 217.7L407.2 215.7L407.9 213.9L408.6 212.4L409.3 210.8L410.1 209.2L410.8 207.7L411.5 206.3L412.2 205.2L412.9 204.4L413.6 204.0L414.3 204.2L415.0 204.9L415.7 206.0L416.4 207.1L417.1 208.1L417.8 209.2L418.5 210.3L419.2 211.4L419.9 212.2L420.6 212.6L421.4 212.5L422.1 212.0L422.8 211.1L423.5 209.9L424.2 208.5L424.9 207.0L425.6 205.4L426.3 203.9L427.0 202.1L427.7 200.0L428.4 197.7L429.1 195.2L429.8 192.7L430.5 190.3L431.2 188.0L431.9 185.8L432.7 183.5L433.4 181.0L434.1 178.6L434.8 176.5L435.5 175.1L436.2 174.6L436.9 175.4L437.6 177.3L438.3 180.0L439.0 182.7L439.7 185.4L440.4 188.8L441.1 192.4L441.8 195.9L442.5 198.7L443.2 200.5L444.0 201.8L444.7 202.9L445.4 203.9L446.1 204.8L446.8 205.5L447.5 206.3L448.2 207.0L448.9 207.7L449.6 208.3L450.3 208.9L451.0 209.4L451.7 209.9L452.4 210.4L453.1 210.9L453.8 211.5L454.5 212.1L455.2 212.9L456.0 213.6L456.7 214.5L457.4 215.3L458.1 216.2L458.8 217.1L459.5 217.9L460.2 218.7L460.9 219.4L461.6 220.0L462.3 220.7L463.0 221.5L463.7 222.2L464.4 222.9L465.1 223.6L465.8 224.3L466.6 225.0L467.3 225.6L468.0 226.2L468.7 226.7L469.4 227.2L470.1 227.6L470.8 227.9L471.5 228.2L472.2 228.3L472.9 228.3L473.6 228.3L474.3 228.3L475.0 228.3L475.7 228.3L476.4 228.2L477.1 228.2L477.9 228.1L478.6 228.1L479.3 228.1L480.0 228.0L480.7 228.0L481.4 227.9L482.1 227.9L482.8 227.8L483.5 227.8L484.2 227.7L484.9 227.7L485.6 227.6L486.3 227.6L487.0 227.6L487.7 227.6L488.4 227.5L489.2 227.5L489.9 227.5L490.6 227.4L491.3 227.4L492.0 227.4L492.7 227.4L493.4 227.3L494.1 227.3L494.8 227.3L495.5 227.3L496.2 227.3L496.9 227.2L497.6 227.2L498.3 227.2L499.0 227.2L499.7 227.1L500.5 227.1L501.2 227.1L501.9 227.1L502.6 227.1L503.3 227.0L504.0 227.0L504.7 227.0L505.4 227.0L506.1 227.0L506.8 226.9L507.5 226.9L508.2 226.9L508.9 226.9L509.6 226.9L510.3 226.8L511.0 226.8L511.8 226.8L512.5 226.8L513.2 226.8L513.9 226.7L514.6 226.7L515.3 226.7L516.0 226.7L516.7 226.6L517.4 226.6L518.1 226.6L518.8 226.6L519.5 226.5L520.2 226.5L520.9 226.5L521.6 226.5L522.3 226.4L523.1 226.4L523.8 226.4L524.5 226.4L525.2 226.3L525.9 226.3L526.6 226.3L527.3 226.2L528.0 226.2L528.7 226.1L529.4 226.0L530.1 226.0L530.8 225.9L531.5 225.8L532.2 225.8L532.9 225.7L533.6 225.6L534.4 225.6L535.1 225.5L535.8 225.5L536.5 225.4L537.2 225.3L537.9 225.3L538.6 225.2L539.3 225.1L540.0 225.1L540.7 225.0L541.4 224.9L542.1 224.9L542.8 224.8L543.5 224.7L544.2 224.6L544.9 224.5L545.7 224.4L546.4 224.3L547.1 224.2L547.8 224.1L548.5 224.0L549.2 223.8L549.9 223.7L550.6 223.6L551.3 223.4L552.0 223.3L552.7 223.1L553.4 222.9L554.1 222.7L554.8 222.5L555.5 222.2L556.2 221.9L557.0 221.6L557.7 221.3L558.4 220.9L559.1 220.5L559.8 220.1L560.5 219.7L561.2 219.3L561.9 218.7L562.6 218.1L563.3 217.5L564.0 216.8L564.7 216.1L565.4 215.4L566.1 214.5L566.8 213.6L567.5 212.6L568.2 211.5L569.0 210.4L569.7 209.2L570.4 207.9L571.1 206.5L571.8 204.9L572.5 203.3L573.2 201.6L573.9 199.8L574.6 197.9L575.3 195.9L576.0 194.0L576.7 192.0L577.4 190.0L578.1 187.8L578.8 185.8L579.6 183.8L580.3 182.2L581.0 180.7L581.7 179.4L582.4 178.2L583.1 177.1L583.8 176.1L584.5 175.3L585.2 174.5L585.9 173.9L586.6 173.4L587.3 173.0L588.0 172.6L588.7 172.4L589.4 172.1L590.1 171.8L590.9 171.7L591.6 171.5L592.3 171.3L593.0 171.0L593.7 170.7L594.4 170.4L595.1 170.1L595.8 169.6L596.5 169.0L597.2 168.2L597.9 167.3L598.6 166.2L599.3 165.1L600.0 163.6L600.7 162.0L601.4 160.2L602.2 158.4L602.9 156.5L603.6 154.3L604.3 152.2L605.0 150.1L605.7 148.0L606.4 145.9L607.1 143.9L607.8 142.2L608.5 141.0L609.2 139.9L609.9 139.0L610.6 138.5L611.3 138.4L612.0 138.9L612.7 139.7L613.5 140.7L614.2 141.9L614.9 143.6L615.6 145.7L616.3 148.6L617.0 152.6L617.7 157.4L618.4 162.7L619.1 169.3L619.8 176.0L620.5 181.1L621.2 185.5L621.9 189.5L622.6 193.2L623.3 196.6L624.0 199.7L624.8 202.6L625.5 205.3L626.2 207.9L626.9 210.4L627.6 212.9L628.3 215.0L629.0 216.6L629.7 218.1L630.4 219.4L631.1 220.5L631.8 221.3L632.5 222.1L633.2 222.8L633.9 223.4L634.6 223.9L635.3 224.3L636.0 224.7L636.8 225.0L637.5 225.4L638.2 225.7L638.9 225.9L639.6 226.2L640.3 226.4L641.0 226.6L641.7 226.8L642.4 227.0L643.1 227.1L643.8 227.3L644.5 227.5L645.2 227.6L645.9 227.7L646.6 227.9L647.4 228.0L648.1 228.1L648.8 228.2L649.5 228.3L650.2 228.4L650.9 228.5L651.6 228.6L652.3 228.7L653.0 228.8L653.7 228.9L654.4 229.0L655.1 229.1L655.8 229.2L656.5 229.2L657.2 229.3L657.9 229.4L658.7 229.5L659.4 229.6L660.1 229.6L660.8 229.7L661.5 229.8L662.2 229.9L662.9 230.0L663.6 230.0L664.3 230.1L665.0 230.2L665.7 230.3L666.4 230.4L667.1 230.4L667.8 230.5L668.5 230.6L669.2 230.7L670.0 230.7L670.7 230.8L671.4 230.9L672.1 231.0L672.8 231.0L673.5 231.1L674.2 231.2L674.9 231.2L675.6 231.3" stroke="#b4bcf0"/>
<path d="M397.8 234.3L398.5 232.3L399.2 230.5L399.9 228.8L400.6 227.4L401.3 226.1L402.0 225.0L402.8 223.9L403.5 222.9L404.2 221.7L404.9 220.4L405.6 218.8L406.3 216.9L407.0 214.7L407.7 212.3L408.4 209.9L409.1 207.4L409.8 205.2L410.5 202.9L411.2 200.3L411.9 197.7L412.6 195.6L413.3 194.2L414.1 193.9L414.8 194.7L415.5 196.1L416.2 197.6L416.9 198.9L417.6 200.2L418.3 201.7L419.0 203.1L419.7 204.2L420.4 204.9L421.1 205.0L421.8 204.4L422.5 203.3L423.2 201.8L423.9 200.0L424.6 198.0L425.4 196.0L426.1 194.0L426.8 191.8L427.5 189.1L428.2 186.1L428.9 182.9L429.6 179.7L430.3 176.7L431.0 173.9L431.7 171.6L432.4 169.5L433.1 167.2L433.8 165.1L434.5 163.3L435.2 161.9L435.9 161.2L436.7 161.6L437.4 163.5L438.1 166.3L438.8 169.6L439.5 172.7L440.2 176.3L440.9 180.4L441.6 184.3L442.3 187.6L443.0 190.6L443.7 193.4L444.4 195.8L445.1 197.5L445.8 198.9L446.5 200.2L447.2 201.2L448.0 202.1L448.7 203.0L449.4 203.7L450.1 204.2L450.8 204.8L451.5 205.3L452.2 205.7L452.9 206.2L453.6 206.8L454.3 207.4L455.0 208.2L455.7 209.0L456.4 209.9L457.1 210.8L457.8 211.8L458.5 212.8L459.3 213.9L460.0 214.9L460.7 216.0L461.4 217.2L462.1 218.5L462.8 219.8L463.5 221.1L464.2 222.2L464.9 223.1L465.6 223.8L466.3 224.4L467.0 225.0L467.7 225.5L468.4 226.0L469.1 226.4L469.8 226.8L470.6 227.1L471.3 227.4L472.0 227.5L472.7 227.6L473.4 227.6L474.1 227.6L474.8 227.5L475.5 227.5L476.2 227.5L476.9 227.5L477.6 227.4L478.3 227.4L479.0 227.4L479.7 227.3L480.4 227.3L481.1 227.2L481.9 227.2L482.6 227.1L483.3 227.1L484.0 227.0L484.7 227.0L485.4 226.9L486.1 226.9L486.8 226.9L487.5 226.8L488.2 226.8L488.9 226.7L489.6 226.7L490.3 226.6L491.0 226.6L491.7 226.5L492.4 226.5L493.2 226.4L493.9 226.4L494.6 226.3L495.3 226.3L496.0 226.2L496.7 226.2L497.4 226.1L498.1 226.1L498.8 226.0L499.5 226.0L500.2 225.9L500.9 225.9L501.6 225.8L502.3 225.8L503.0 225.7L503.7 225.7L504.5 225.7L505.2 225.6L505.9 225.6L506.6 225.5L507.3 225.5L508.0 225.5L508.7 225.4L509.4 225.4L510.1 225.4L510.8 225.3L511.5 225.3L512.2 225.3L512.9 225.3L513.6 225.2L514.3 225.2L515.0 225.2L515.8 225.1L516.5 225.1L517.2 225.1L517.9 225.1L518.6 225.0L519.3 225.0L520.0 225.0L520.7 225.0L521.4 224.9L522.1 224.9L522.8 224.9L523.5 224.9L524.2 224.8L524.9 224.8L525.6 224.8L526.3 224.8L527.1 224.7L527.8 224.7L528.5 224.6L529.2 224.5L529.9 224.5L530.6 224.4L531.3 224.3L532.0 224.2L532.7 224.2L533.4 224.1L534.1 224.0L534.8 224.0L535.5 223.9L536.2 223.8L536.9 223.7L537.6 223.7L538.4 223.6L539.1 223.5L539.8 223.4L540.5 223.4L541.2 223.3L541.9 223.2L542.6 223.1L543.3 223.0L544.0 223.0L544.7 222.9L545.4 222.8L546.1 222.7L546.8 222.6L547.5 222.5L548.2 222.4L548.9 222.2L549.7 222.1L550.4 222.0L551.1 221.8L551.8 221.7L552.5 221.5L553.2 221.3L553.9 221.1L554.6 220.9L555.3 220.6L556.0 220.3L556.7 220.0L557.4 219.7L558.1 219.3L558.8 218.9L559.5 218.5L560.2 218.0L561.0 217.5L561.7 217.0L562.4 216.4L563.1 215.7L563.8 214.9L564.5 214.1L565.2 213.3L565.9 212.4L566.6 211.4L567.3 210.3L568.0 209.1L568.7 207.8L569.4 206.5L570.1 205.1L570.8 203.5L571.5 201.7L572.3 199.9L573.0 197.9L573.7 195.9L574.4 193.8L575.1 191.5L575.8 189.3L576.5 187.0L577.2 184.7L577.9 182.3L578.6 179.9L579.3 177.6L580.0 175.6L580.7 173.8L581.4 172.2L582.1 170.8L582.8 169.5L583.6 168.4L584.3 167.4L585.0 166.4L585.7 165.6L586.4 165.1L587.1 164.6L587.8 164.2L588.5 163.8L589.2 163.5L589.9 163.2L590.6 163.0L591.3 162.8L592.0 162.6L592.7 162.3L593.4 162.0L594.1 161.7L594.9 161.3L595.6 160.8L596.3 160.2L597.0 159.3L597.7 158.3L598.4 157.2L599.1 155.9L599.8 154.3L600.5 152.5L601.2 150.5L601.9 148.4L602.6 146.3L603.3 143.8L604.0 141.3L604.7 138.9L605.4 136.5L606.2 134.0L606.9 131.6L607.6 129.5L608.3 128.0L609.0 126.7L609.7 125.6L610.4 124.8L611.1 124.5L611.8 124.9L612.5 125.7L613.2 126.8L613.9 128.1L614.6 129.9L615.3 132.2L616.0 135.1L616.7 139.3L617.5 144.7L618.2 150.6L618.9 157.7L619.6 165.7L620.3 172.2L621.0 177.5L621.7 182.2L622.4 186.7L623.1 190.8L623.8 194.5L624.5 197.9L625.2 201.1L625.9 204.1L626.6 207.0L627.3 209.9L628.0 212.5L628.8 214.6L629.5 216.4L630.2 217.9L630.9 219.2L631.6 220.3L632.3 221.2L633.0 222.0L633.7 222.8L634.4 223.4L635.1 223.9L635.8 224.3L636.5 224.7L637.2 225.1L637.9 225.4L638.6 225.7L639.3 226.0L640.1 226.3L640.8 226.5L641.5 226.7L642.2 226.9L642.9 227.1L643.6 227.3L644.3 227.5L645.0 227.7L645.7 227.8L646.4 227.9L647.1 228.1L647.8 228.2L648.5 228.3L649.2 228.4L649.9 228.5L650.6 228.6L651.4 228.7L652.1 228.8L652.8 228.9L653.5 229.0L654.2 229.1L654.9 229.2L655.6 229.3L656.3 229.4L657.0 229.4L657.7 229.5L658.4 229.6L659.1 229.7L659.8 229.8L660.5 229.8L661.2 229.9L661.9 230.0L662.7 230.1L663.4 230.1L664.1 230.2L664.8 230.3L665.5 230.3L666.2 230.4L666.9 230.5L667.6 230.6L668.3 230.6L669.0 230.7L669.7 230.8L670.4 230.8L671.1 230.9L671.8 231.0L672.5 231.0L673.2 231.1L674.0 231.2L674.7 231.2L675.4 231.3" stroke="#847c1c"/>
<path d="M395.5 234.3L396.2 231.8L396.9 229.5L397.6 227.4L398.3 225.7L399.0 224.0L399.7 222.5L400.4 221.1L401.1 220.0L401.8 219.1L402.5 218.5L403.2 218.1L403.9 217.7L404.6 217.1L405.3 216.4L406.0 214.9L406.8 212.6L407.5 209.6L408.2 206.4L408.9 203.1L409.6 200.1L410.3 197.7L411.0 195.2L411.7 192.6L412.4 190.3L413.1 188.7L413.8 188.0L414.5 188.5L415.2 189.7L415.9 191.1L416.6 192.5L417.3 193.9L418.1 195.5L418.8 197.2L419.5 198.6L420.2 199.6L420.9 200.0L421.6 199.5L422.3 198.4L423.0 196.7L423.7 194.6L424.4 192.2L425.1 189.8L425.8 187.3L426.5 184.9L427.2 182.0L427.9 178.8L428.6 175.3L429.4 171.8L430.1 168.3L430.8 165.0L431.5 162.1L432.2 159.4L432.9 156.5L433.6 153.6L434.3 150.9L435.0 148.8L435.7 147.6L436.4 147.4L437.1 149.1L437.8 152.2L438.5 155.9L439.2 159.7L439.9 163.7L440.7 168.4L441.4 173.2L442.1 177.6L442.8 181.8L443.5 186.1L444.2 189.9L444.9 192.5L445.6 194.3L446.3 195.7L447.0 196.9L447.7 197.9L448.4 198.9L449.1 199.8L449.8 200.7L450.5 201.4L451.2 202.1L452.0 202.8L452.7 203.5L453.4 204.2L454.1 204.9L454.8 205.7L455.5 206.6L456.2 207.5L456.9 208.4L457.6 209.3L458.3 210.3L459.0 211.3L459.7 212.3L460.4 213.4L461.1 214.7L461.8 216.0L462.5 217.4L463.3 218.8L464.0 220.1L464.7 221.2L465.4 222.1L466.1 222.8L466.8 223.4L467.5 224.1L468.2 224.7L468.9 225.2L469.6 225.7L470.3 226.2L471.0 226.5L471.7 226.7L472.4 226.8L473.1 226.8L473.8 226.8L474.6 226.8L475.3 226.8L476.0 226.8L476.7 226.8L477.4 226.8L478.1 226.8L478.8 226.8L479.5 226.8L480.2 226.8L480.9 226.8L481.6 226.8L482.3 226.8L483.0 226.8L483.7 226.8L484.4 226.8L485.1 226.8L485.9 226.8L486.6 226.8L487.3 226.8L488.0 226.8L488.7 226.8L489.4 226.8L490.1 226.8L490.8 226.8L491.5 226.7L492.2 226.7L492.9 226.7L493.6 226.6L494.3 226.6L495.0 226.5L495.7 226.5L496.4 226.4L497.2 226.4L497.9 226.3L498.6 226.3L499.3 226.2L500.0 226.2L500.7 226.1L501.4 226.1L502.1 226.0L502.8 225.9L503.5 225.9L504.2 225.8L504.9 225.8L505.6 225.7L506.3 225.6L507.0 225.6L507.7 225.5L508.5 225.5L509.2 225.4L509.9 225.4L510.6 225.3L511.3 225.3L512.0 225.3L512.7 225.2L513.4 225.2L514.1 225.1L514.8 225.1L515.5 225.0L516.2 225.0L516.9 224.9L517.6 224.9L518.3 224.8L519.0 224.8L519.8 224.7L520.5 224.7L521.2 224.6L521.9 224.6L522.6 224.5L523.3 224.5L524.0 224.4L524.7 224.4L525.4 224.3L526.1 224.3L526.8 224.2L527.5 224.1L528.2 224.0L528.9 224.0L529.6 223.9L530.3 223.8L531.1 223.6L531.8 223.5L532.5 223.4L533.2 223.3L533.9 223.2L534.6 223.1L535.3 223.1L536.0 223.0L536.7 222.9L537.4 222.8L538.1 222.7L538.8 222.6L539.5 222.5L540.2 222.4L540.9 222.3L541.6 222.2L542.4 222.1L543.1 222.0L543.8 221.9L544.5 221.8L545.2 221.7L545.9 221.6L546.6 221.5L547.3 221.3L548.0 221.2L548.7 221.1L549.4 220.9L550.1 220.8L550.8 220.6L551.5 220.4L552.2 220.2L552.9 220.0L553.7 219.8L554.4 219.5L555.1 219.2L555.8 218.8L556.5 218.5L557.2 218.0L557.9 217.6L558.6 217.1L559.3 216.6L560.0 216.1L560.7 215.5L561.4 214.9L562.1 214.2L562.8 213.4L563.5 212.5L564.2 211.6L565.0 210.6L565.7 209.5L566.4 208.4L567.1 207.1L567.8 205.7L568.5 204.3L569.2 202.7L569.9 201.1L570.6 199.2L571.3 197.2L572.0 195.0L572.7 192.7L573.4 190.4L574.1 187.9L574.8 185.3L575.5 182.6L576.3 179.9L577.0 177.2L577.7 174.3L578.4 171.4L579.1 168.6L579.8 166.1L580.5 164.0L581.2 162.0L581.9 160.2L582.6 158.6L583.3 157.2L584.0 156.0L584.7 154.8L585.4 153.8L586.1 153.0L586.8 152.4L587.6 151.9L588.3 151.5L589.0 151.1L589.7 150.8L590.4 150.5L591.1 150.2L591.8 150.0L592.5 149.7L593.2 149.3L593.9 148.9L594.6 148.5L595.3 148.0L596.0 147.3L596.7 146.3L597.4 145.2L598.1 143.9L598.9 142.4L599.6 140.7L600.3 138.6L601.0 136.3L601.7 133.8L602.4 131.3L603.1 128.5L603.8 125.6L604.5 122.6L605.2 119.8L605.9 116.9L606.6 113.9L607.3 111.3L608.0 109.2L608.7 107.7L609.4 106.3L610.2 105.1L610.9 104.6L611.6 104.7L612.3 105.6L613.0 106.8L613.7 108.2L614.4 110.1L615.1 112.7L615.8 115.8L616.5 120.2L617.2 126.3L617.9 133.1L618.6 140.9L619.3 150.4L620.0 158.9L620.7 165.5L621.5 171.3L622.2 176.7L622.9 181.7L623.6 186.2L624.3 190.3L625.0 194.2L625.7 197.9L626.4 201.4L627.1 204.9L627.8 208.1L628.5 210.8L629.2 213.0L629.9 214.9L630.6 216.6L631.3 217.9L632.0 219.0L632.8 220.1L633.5 221.0L634.2 221.7L634.9 222.4L635.6 222.9L636.3 223.4L637.0 223.9L637.7 224.3L638.4 224.7L639.1 225.0L639.8 225.3L640.5 225.6L641.2 225.8L641.9 226.1L642.6 226.3L643.3 226.5L644.1 226.8L644.8 227.0L645.5 227.1L646.2 227.3L646.9 227.5L647.6 227.6L648.3 227.7L649.0 227.9L649.7 228.0L650.4 228.1L651.1 228.2L651.8 228.3L652.5 228.5L653.2 228.6L653.9 228.7L654.6 228.8L655.4 228.9L656.1 229.0L656.8 229.1L657.5 229.2L658.2 229.3L658.9 229.4L659.6 229.5L660.3 229.5L661.0 229.6L661.7 229.7L662.4 229.8L663.1 229.9L663.8 230.0L664.5 230.1L665.2 230.2L665.9 230.2L666.7 230.3L667.4 230.4L668.1 230.5L668.8 230.6L669.5 230.7L670.2 230.7L670.9 230.8L671.6 230.9L672.3 231.0L673.0 231.0L673.7 231.1L674.4 231.2L675.1 231.3" stroke="#e622e6"/>
<path d="M403.5 234.3L404.2 232.3L404.9 230.0L405.6 227.4L406.3 224.2L407.0 220.5L407.7 216.6L408.4 212.7L409.1 208.9L409.8 205.5L410.5 202.4L411.2 199.0L411.9 195.8L412.6 193.1L413.3 191.4L414.1 191.1L414.8 191.9L415.5 193.2L416.2 194.7L416.9 195.9L417.6 197.1L418.3 198.4L419.0 199.7L419.7 200.7L420.4 201.3L421.1 201.4L421.8 200.8L422.5 199.7L423.2 198.1L423.9 196.2L424.6 194.1L425.4 191.8L426.1 189.5L426.8 186.9L427.5 183.5L428.2 179.6L428.9 175.3L429.6 171.0L430.3 166.9L431.0 163.0L431.7 159.7L432.4 156.5L433.1 153.1L433.8 149.8L434.5 147.0L435.2 144.9L435.9 143.8L436.7 144.2L437.4 146.5L438.1 150.0L438.8 154.0L439.5 158.1L440.2 163.1L440.9 168.8L441.6 174.4L442.3 179.1L443.0 183.5L443.7 187.6L444.4 190.9L445.1 193.1L445.8 194.7L446.5 196.1L447.2 197.2L448.0 198.2L448.7 199.2L449.4 200.2L450.1 201.1L450.8 201.9L451.5 202.7L452.2 203.5L452.9 204.3L453.6 205.1L454.3 205.9L455.0 206.8L455.7 207.7L456.4 208.6L457.1 209.5L457.8 210.5L458.5 211.4L459.3 212.4L460.0 213.4L460.7 214.5L461.4 215.7L462.1 217.0L462.8 218.2L463.5 219.5L464.2 220.6L464.9 221.6L465.6 222.3L466.3 223.0L467.0 223.6L467.7 224.3L468.4 224.9L469.1 225.4L469.8 225.9L470.6 226.3L471.3 226.6L472.0 226.8L472.7 226.8L473.4 226.8L474.1 226.8L474.8 226.8L475.5 226.8L476.2 226.8L476.9 226.8L477.6 226.8L478.3 226.8L479.0 226.8L479.7 226.8L480.4 226.8L481.1 226.8L481.9 226.8L482.6 226.8L483.3 226.8L484.0 226.8L484.7 226.8L485.4 226.8L486.1 226.8L486.8 226.8L487.5 226.8L488.2 226.8L488.9 226.8L489.6 226.8L490.3 226.8L491.0 226.8L491.7 226.7L492.4 226.7L493.2 226.7L493.9 226.6L494.6 226.6L495.3 226.5L496.0 226.5L496.7 226.4L497.4 226.4L498.1 226.3L498.8 226.3L499.5 226.2L500.2 226.2L500.9 226.1L501.6 226.0L502.3 226.0L503.0 225.9L503.7 225.9L504.5 225.8L505.2 225.7L505.9 225.7L506.6 225.6L507.3 225.6L508.0 225.5L508.7 225.5L509.4 225.4L510.1 225.4L510.8 225.3L511.5 225.3L512.2 225.2L512.9 225.2L513.6 225.2L514.3 225.1L515.0 225.1L515.8 225.0L516.5 225.0L517.2 224.9L517.9 224.9L518.6 224.8L519.3 224.8L520.0 224.7L520.7 224.7L521.4 224.6L522.1 224.6L522.8 224.5L523.5 224.5L524.2 224.4L524.9 224.4L525.6 224.3L526.3 224.3L527.1 224.2L527.8 224.1L528.5 224.0L529.2 223.9L529.9 223.8L530.6 223.7L531.3 223.6L532.0 223.4L532.7 223.3L533.4 223.2L534.1 223.1L534.8 223.0L535.5 222.9L536.2 222.8L536.9 222.7L537.6 222.6L538.4 222.5L539.1 222.4L539.8 222.3L540.5 222.2L541.2 222.1L541.9 222.0L542.6 221.9L543.3 221.8L544.0 221.7L544.7 221.5L545.4 221.4L546.1 221.3L546.8 221.1L547.5 221.0L548.2 220.8L548.9 220.7L549.7 220.5L550.4 220.3L551.1 220.1L551.8 219.9L552.5 219.6L553.2 219.4L553.9 219.1L554.6 218.8L555.3 218.4L556.0 218.1L556.7 217.6L557.4 217.2L558.1 216.7L558.8 216.1L559.5 215.6L560.2 215.0L561.0 214.3L561.7 213.6L562.4 212.8L563.1 211.9L563.8 211.0L564.5 210.0L565.2 208.9L565.9 207.7L566.6 206.5L567.3 205.1L568.0 203.6L568.7 202.1L569.4 200.4L570.1 198.7L570.8 196.7L571.5 194.5L572.3 192.2L573.0 189.9L573.7 187.4L574.4 184.8L575.1 182.0L575.8 179.3L576.5 176.5L577.2 173.7L577.9 170.7L578.6 167.8L579.3 165.0L580.0 162.6L580.7 160.5L581.4 158.5L582.1 156.8L582.8 155.3L583.6 154.0L584.3 152.7L585.0 151.6L585.7 150.7L586.4 149.9L587.1 149.3L587.8 148.7L588.5 148.2L589.2 147.7L589.9 147.2L590.6 146.7L591.3 146.3L592.0 145.8L592.7 145.2L593.4 144.6L594.1 143.9L594.9 143.1L595.6 142.2L596.3 141.0L597.0 139.6L597.7 138.0L598.4 136.2L599.1 134.2L599.8 131.9L600.5 129.2L601.2 126.4L601.9 123.4L602.6 120.3L603.3 116.8L604.0 113.3L604.7 109.9L605.4 106.6L606.2 103.1L606.9 99.8L607.6 96.9L608.3 94.7L609.0 93.0L609.7 91.4L610.4 90.3L611.1 89.8L611.8 90.3L612.5 91.3L613.2 92.8L613.9 94.5L614.6 96.8L615.3 99.9L616.0 103.7L616.7 109.3L617.5 116.5L618.2 124.3L618.9 133.9L619.6 144.4L620.3 153.1L621.0 160.1L621.7 166.5L622.4 172.4L623.1 177.9L623.8 182.7L624.5 187.3L625.2 191.5L625.9 195.6L626.6 199.5L627.3 203.3L628.0 206.8L628.8 209.5L629.5 211.9L630.2 214.0L630.9 215.7L631.6 217.1L632.3 218.3L633.0 219.4L633.7 220.4L634.4 221.2L635.1 221.9L635.8 222.5L636.5 223.0L637.2 223.5L637.9 223.9L638.6 224.3L639.3 224.7L640.1 225.0L640.8 225.3L641.5 225.6L642.2 225.8L642.9 226.1L643.6 226.3L644.3 226.6L645.0 226.8L645.7 227.0L646.4 227.2L647.1 227.3L647.8 227.5L648.5 227.6L649.2 227.7L649.9 227.9L650.6 228.0L651.4 228.1L652.1 228.2L652.8 228.4L653.5 228.5L654.2 228.6L654.9 228.7L655.6 228.8L656.3 228.9L657.0 229.0L657.7 229.1L658.4 229.2L659.1 229.3L659.8 229.4L660.5 229.5L661.2 229.6L661.9 229.7L662.7 229.8L663.4 229.9L664.1 230.0L664.8 230.1L665.5 230.1L666.2 230.2L666.9 230.3L667.6 230.4L668.3 230.5L669.0 230.6L669.7 230.7L670.4 230.7L671.1 230.8L671.8 230.9L672.5 231.0L673.2 231.1L674.0 231.1L674.7 231.2L675.4 231.3" stroke="#1c1cd6"/>
<path d="M392.6 234.3L393.3 230.9L394.0 227.7L394.7 224.6L395.5 221.6L396.2 218.9L396.9 216.4L397.6 214.1L398.3 211.9L399.0 210.1L399.7 208.8L400.4 207.9L401.1 207.2L401.8 206.7L402.5 206.1L403.2 205.5L403.9 204.6L404.6 203.3L405.3 200.8L406.0 197.5L406.8 193.7L407.5 189.9L408.2 186.5L408.9 183.4L409.6 180.2L410.3 177.1L411.0 174.4L411.7 172.2L412.4 170.6L413.1 169.2L413.8 168.6L414.5 169.1L415.2 170.3L415.9 171.7L416.6 173.1L417.3 174.6L418.1 176.4L418.8 178.2L419.5 179.8L420.2 180.9L420.9 181.3L421.6 180.9L422.3 179.7L423.0 178.0L423.7 175.8L424.4 173.3L425.1 170.7L425.8 168.0L426.5 165.2L427.2 161.5L427.9 157.3L428.6 152.6L429.4 147.8L430.1 143.2L430.8 138.9L431.5 135.3L432.2 132.3L432.9 129.3L433.6 126.3L434.3 123.6L435.0 121.5L435.7 120.3L436.4 120.2L437.1 122.8L437.8 127.5L438.5 133.2L439.2 138.8L439.9 144.6L440.7 151.3L441.4 158.1L442.1 164.2L442.8 169.8L443.5 175.4L444.2 180.2L444.9 183.6L445.6 185.8L446.3 187.5L447.0 188.9L447.7 190.3L448.4 191.5L449.1 192.7L449.8 193.8L450.5 194.8L451.2 195.8L452.0 197.0L452.7 198.3L453.4 199.7L454.1 201.1L454.8 202.3L455.5 203.2L456.2 204.0L456.9 204.7L457.6 205.4L458.3 205.9L459.0 206.6L459.7 207.2L460.4 207.9L461.1 208.6L461.8 209.4L462.5 210.1L463.3 210.9L464.0 211.6L464.7 212.4L465.4 213.1L466.1 213.9L466.8 214.6L467.5 215.4L468.2 216.3L468.9 217.3L469.6 218.2L470.3 219.1L471.0 219.9L471.7 220.5L472.4 220.8L473.1 220.9L473.8 221.0L474.6 221.0L475.3 221.1L476.0 221.2L476.7 221.2L477.4 221.3L478.1 221.4L478.8 221.5L479.5 221.7L480.2 221.8L480.9 221.9L481.6 222.0L482.3 222.2L483.0 222.3L483.7 222.4L484.4 222.6L485.1 222.7L485.9 222.9L486.6 223.0L487.3 223.2L488.0 223.3L488.7 223.6L489.4 223.8L490.1 224.0L490.8 224.2L491.5 224.4L492.2 224.7L492.9 224.9L493.6 225.0L494.3 225.2L495.0 225.3L495.7 225.4L496.4 225.5L497.2 225.5L497.9 225.5L498.6 225.5L499.3 225.5L500.0 225.4L500.7 225.4L501.4 225.4L502.1 225.4L502.8 225.3L503.5 225.3L504.2 225.2L504.9 225.2L505.6 225.2L506.3 225.1L507.0 225.1L507.7 225.0L508.5 225.0L509.2 224.9L509.9 224.9L510.6 224.9L511.3 224.8L512.0 224.8L512.7 224.7L513.4 224.7L514.1 224.7L514.8 224.6L515.5 224.6L516.2 224.5L516.9 224.5L517.6 224.4L518.3 224.4L519.0 224.3L519.8 224.2L520.5 224.2L521.2 224.1L521.9 224.1L522.6 224.0L523.3 224.0L524.0 223.9L524.7 223.8L525.4 223.8L526.1 223.7L526.8 223.6L527.5 223.5L528.2 223.4L528.9 223.3L529.6 223.1L530.3 223.0L531.1 222.9L531.8 222.7L532.5 222.6L533.2 222.5L533.9 222.4L534.6 222.2L535.3 222.1L536.0 222.0L536.7 221.9L537.4 221.8L538.1 221.7L538.8 221.5L539.5 221.4L540.2 221.3L540.9 221.2L541.6 221.1L542.4 220.9L543.1 220.8L543.8 220.7L544.5 220.5L545.2 220.4L545.9 220.2L546.6 220.1L547.3 219.9L548.0 219.7L548.7 219.6L549.4 219.4L550.1 219.2L550.8 218.9L551.5 218.7L552.2 218.4L552.9 218.2L553.7 217.9L554.4 217.5L555.1 217.1L555.8 216.7L556.5 216.2L557.2 215.7L557.9 215.1L558.6 214.5L559.3 213.9L560.0 213.2L560.7 212.5L561.4 211.7L562.1 210.8L562.8 209.8L563.5 208.7L564.2 207.5L565.0 206.3L565.7 204.9L566.4 203.4L567.1 201.8L567.8 200.1L568.5 198.3L569.2 196.3L569.9 194.2L570.6 191.9L571.3 189.3L572.0 186.6L572.7 183.7L573.4 180.8L574.1 177.6L574.8 174.3L575.5 170.9L576.3 167.5L577.0 164.1L577.7 160.6L578.4 156.9L579.1 153.4L579.8 150.2L580.5 147.5L581.2 145.0L581.9 142.8L582.6 140.8L583.3 139.1L584.0 137.5L584.7 136.0L585.4 134.8L586.1 133.8L586.8 133.0L587.6 132.4L588.3 131.8L589.0 131.3L589.7 130.9L590.4 130.5L591.1 130.2L591.8 129.9L592.5 129.5L593.2 129.0L593.9 128.6L594.6 128.0L595.3 127.3L596.0 126.4L596.7 125.2L597.4 123.8L598.1 122.1L598.9 120.3L599.6 118.1L600.3 115.5L601.0 112.6L601.7 109.5L602.4 106.4L603.1 102.8L603.8 99.1L604.5 95.4L605.2 91.8L605.9 88.2L606.6 84.5L607.3 81.2L608.0 78.5L608.7 76.6L609.4 74.8L610.2 73.4L610.9 72.7L611.6 72.9L612.3 73.9L613.0 75.5L613.7 77.2L614.4 79.6L615.1 82.8L615.8 86.7L616.5 92.3L617.2 99.9L617.9 108.5L618.6 118.3L619.3 130.1L620.0 140.8L620.7 149.1L621.5 156.3L622.2 163.1L622.9 169.5L623.6 175.1L624.3 180.3L625.0 185.2L625.7 189.8L626.4 194.2L627.1 198.5L627.8 202.6L628.5 205.9L629.2 208.7L629.9 211.1L630.6 213.2L631.3 214.9L632.0 216.3L632.8 217.6L633.5 218.7L634.2 219.6L634.9 220.4L635.6 221.1L636.3 221.7L637.0 222.3L637.7 222.8L638.4 223.3L639.1 223.7L639.8 224.1L640.5 224.4L641.2 224.7L641.9 225.0L642.6 225.3L643.3 225.6L644.1 225.9L644.8 226.1L645.5 226.3L646.2 226.5L646.9 226.7L647.6 226.9L648.3 227.1L649.0 227.2L649.7 227.4L650.4 227.5L651.1 227.7L651.8 227.8L652.5 227.9L653.2 228.1L653.9 228.2L654.6 228.3L655.4 228.4L656.1 228.6L656.8 228.7L657.5 228.8L658.2 228.9L658.9 229.0L659.6 229.1L660.3 229.2L661.0 229.3L661.7 229.4L662.4 229.5L663.1 229.6L663.8 229.7L664.5 229.9L665.2 230.0L665.9 230.1L666.7 230.2L667.4 230.3L668.1 230.4L668.8 230.4L669.5 230.5L670.2 230.6L670.9 230.7L671.6 230.8L672.3 230.9L673.0 231.0L673.7 231.1L674.4 231.2L675.1 231.2" stroke="#22e622"/>
<path d="M393.1 234.3L393.8 231.8L394.5 229.8L395.2 228.3L395.9 227.0L396.6 225.8L397.3 224.7L398.0 223.8L398.8 222.8L399.5 221.9L400.2 221.0L400.9 220.3L401.6 219.6L402.3 219.0L403.0 218.3L403.7 217.4L404.4 216.4L405.1 214.9L405.8 213.0L406.5 210.7L407.2 208.1L407.9 205.4L408.6 202.3L409.3 198.4L410.1 194.2L410.8 190.5L411.5 187.6L412.2 184.6L412.9 182.1L413.6 180.7L414.3 180.9L415.0 182.2L415.7 184.1L416.4 186.0L417.1 187.7L417.8 189.9L418.5 192.1L419.2 194.2L419.9 195.8L420.6 196.6L421.4 196.5L422.1 195.7L422.8 194.3L423.5 192.5L424.2 190.3L424.9 187.9L425.6 185.3L426.3 182.6L427.0 178.9L427.7 174.1L428.4 168.5L429.1 162.5L429.8 156.4L430.5 150.5L431.2 145.0L431.9 140.2L432.7 135.1L433.4 129.8L434.1 124.7L434.8 120.5L435.5 117.5L436.2 116.4L436.9 118.7L437.6 124.5L438.3 132.1L439.0 139.6L439.7 146.1L440.4 153.2L441.1 160.2L441.8 166.7L442.5 172.4L443.2 178.0L444.0 183.0L444.7 187.0L445.4 189.9L446.1 192.2L446.8 194.2L447.5 195.8L448.2 197.0L448.9 198.0L449.6 198.9L450.3 199.7L451.0 200.5L451.7 201.2L452.4 201.8L453.1 202.4L453.8 203.1L454.5 203.7L455.2 204.4L456.0 205.2L456.7 206.0L457.4 206.9L458.1 207.7L458.8 208.7L459.5 209.7L460.2 210.8L460.9 212.2L461.6 213.8L462.3 215.5L463.0 217.3L463.7 219.0L464.4 220.5L465.1 221.7L465.8 222.6L466.6 223.4L467.3 224.1L468.0 224.8L468.7 225.5L469.4 226.0L470.1 226.5L470.8 226.9L471.5 227.2L472.2 227.4L472.9 227.4L473.6 227.4L474.3 227.4L475.0 227.4L475.7 227.4L476.4 227.4L477.1 227.3L477.9 227.3L478.6 227.3L479.3 227.2L480.0 227.2L480.7 227.2L481.4 227.1L482.1 227.1L482.8 227.1L483.5 227.0L484.2 227.0L484.9 226.9L485.6 226.9L486.3 226.9L487.0 226.8L487.7 226.8L488.4 226.8L489.2 226.7L489.9 226.7L490.6 226.7L491.3 226.6L492.0 226.6L492.7 226.5L493.4 226.5L494.1 226.5L494.8 226.4L495.5 226.4L496.2 226.3L496.9 226.3L497.6 226.2L498.3 226.2L499.0 226.1L499.7 226.1L500.5 226.0L501.2 226.0L501.9 226.0L502.6 225.9L503.3 225.9L504.0 225.8L504.7 225.8L505.4 225.7L506.1 225.7L506.8 225.6L507.5 225.6L508.2 225.5L508.9 225.5L509.6 225.4L510.3 225.4L511.0 225.3L511.8 225.3L512.5 225.2L513.2 225.1L513.9 225.1L514.6 225.0L515.3 225.0L516.0 224.9L516.7 224.8L517.4 224.8L518.1 224.7L518.8 224.6L519.5 224.5L520.2 224.5L520.9 224.4L521.6 224.3L522.3 224.2L523.1 224.2L523.8 224.1L524.5 224.0L525.2 223.9L525.9 223.9L526.6 223.7L527.3 223.6L528.0 223.5L528.7 223.4L529.4 223.2L530.1 223.0L530.8 222.9L531.5 222.7L532.2 222.6L532.9 222.4L533.6 222.3L534.4 222.1L535.1 222.0L535.8 221.8L536.5 221.7L537.2 221.6L537.9 221.4L538.6 221.3L539.3 221.2L540.0 221.0L540.7 220.9L541.4 220.7L542.1 220.6L542.8 220.4L543.5 220.3L544.2 220.1L544.9 219.9L545.7 219.8L546.4 219.6L547.1 219.4L547.8 219.2L548.5 218.9L549.2 218.7L549.9 218.5L550.6 218.2L551.3 217.9L552.0 217.6L552.7 217.3L553.4 216.9L554.1 216.5L554.8 216.1L555.5 215.6L556.2 215.0L557.0 214.4L557.7 213.7L558.4 213.0L559.1 212.3L559.8 211.5L560.5 210.7L561.2 209.7L561.9 208.7L562.6 207.5L563.3 206.2L564.0 204.9L564.7 203.4L565.4 201.9L566.1 200.2L566.8 198.3L567.5 196.3L568.2 194.1L569.0 191.8L569.7 189.4L570.4 186.7L571.1 183.8L571.8 180.6L572.5 177.2L573.2 173.8L573.9 170.1L574.6 166.2L575.3 162.2L576.0 158.1L576.7 154.1L577.4 149.9L578.1 145.6L578.8 141.3L579.6 137.4L580.3 134.0L581.0 130.9L581.7 128.1L582.4 125.7L583.1 123.5L583.8 121.6L584.5 119.7L585.2 118.2L585.9 116.9L586.6 115.9L587.3 115.1L588.0 114.4L588.7 113.8L589.4 113.2L590.1 112.7L590.9 112.3L591.6 111.9L592.3 111.5L593.0 111.0L593.7 110.4L594.4 109.8L595.1 109.0L595.8 108.1L596.5 106.8L597.2 105.1L597.9 103.2L598.6 101.1L599.3 98.7L600.0 95.8L600.7 92.4L601.4 88.8L602.2 85.0L602.9 81.0L603.6 76.6L604.3 72.1L605.0 67.8L605.7 63.5L606.4 59.1L607.1 55.0L607.8 51.5L608.5 49.0L609.2 46.8L609.9 44.9L610.6 43.8L611.3 43.6L612.0 44.6L612.7 46.2L613.5 48.2L614.2 50.8L614.9 54.2L615.6 58.6L616.3 64.4L617.0 72.7L617.7 82.6L618.4 93.5L619.1 107.1L619.8 120.7L620.5 131.2L621.2 140.2L621.9 148.4L622.6 156.1L623.3 163.1L624.0 169.4L624.8 175.3L625.5 180.9L626.2 186.1L626.9 191.4L627.6 196.3L628.3 200.6L629.0 204.1L629.7 207.1L630.4 209.7L631.1 211.9L631.8 213.6L632.5 215.1L633.2 216.5L633.9 217.7L634.6 218.7L635.3 219.6L636.0 220.3L636.8 221.0L637.5 221.6L638.2 222.2L638.9 222.7L639.6 223.1L640.3 223.5L641.0 223.9L641.7 224.3L642.4 224.6L643.1 225.0L643.8 225.3L644.5 225.5L645.2 225.8L645.9 226.1L646.6 226.3L647.4 226.5L648.1 226.7L648.8 226.8L649.5 227.0L650.2 227.2L650.9 227.3L651.6 227.5L652.3 227.6L653.0 227.8L653.7 227.9L654.4 228.1L655.1 228.2L655.8 228.3L656.5 228.5L657.2 228.6L657.9 228.7L658.7 228.8L659.4 228.9L660.1 229.1L660.8 229.2L661.5 229.3L662.2 229.4L662.9 229.5L663.6 229.6L664.3 229.7L665.0 229.8L665.7 230.0L666.4 230.1L667.1 230.2L667.8 230.3L668.5 230.4L669.2 230.5L670.0 230.6L670.7 230.7L671.4 230.8L672.1 230.9L672.8 231.0L673.5 231.0L674.2 231.1L674.9 231.2L675.6 231.3" stroke="#e8161c"/>
</g>
<rect x="393.1" y="7.5" width="282.5" height="223.8" fill="none" stroke="#000" stroke-width="1.6"/>
<path d="M393.1 231.3V235.3M416.6 231.3V233.8M440.2 231.3V235.3M463.7 231.3V233.8M487.3 231.3V235.3M510.8 231.3V233.8M534.4 231.3V235.3M557.9 231.3V233.8M581.4 231.3V235.3M605.0 231.3V233.8M628.5 231.3V235.3M652.1 231.3V233.8M675.6 231.3V235.3M393.1 231.3H389.1M393.1 156.7H389.1M393.1 82.1H389.1M393.1 7.5H389.1M393.1 194.0H390.6M393.1 119.4H390.6M393.1 44.8H390.6" stroke="#000" stroke-width="1.5" fill="none"/>
<text x="393.1" y="247.0" font-size="9.50" font-weight="bold" text-anchor="middle" fill="#000" >200</text>
<text x="440.2" y="247.0" font-size="9.50" font-weight="bold" text-anchor="middle" fill="#000" >300</text>
<text x="487.3" y="247.0" font-size="9.50" font-weight="bold" text-anchor="middle" fill="#000" >400</text>
<text x="534.4" y="247.0" font-size="9.50" font-weight="bold" text-anchor="middle" fill="#000" >500</text>
<text x="581.4" y="247.0" font-size="9.50" font-weight="bold" text-anchor="middle" fill="#000" >600</text>
<text x="628.5" y="247.0" font-size="9.50" font-weight="bold" text-anchor="middle" fill="#000" >700</text>
<text x="675.6" y="247.0" font-size="9.50" font-weight="bold" text-anchor="middle" fill="#000" >800</text>
<text x="386.0" y="234.6" font-size="9.50" font-weight="bold" text-anchor="end" fill="#000" >0.0</text>
<text x="386.0" y="160.0" font-size="9.50" font-weight="bold" text-anchor="end" fill="#000" >0.5</text>
<text x="386.0" y="85.4" font-size="9.50" font-weight="bold" text-anchor="end" fill="#000" >1.0</text>
<text x="386.0" y="10.8" font-size="9.50" font-weight="bold" text-anchor="end" fill="#000" >1.5</text>
<text x="530.5" y="269.0" font-size="21.00" font-weight="bold" text-anchor="middle" fill="#000" textLength="158.0" lengthAdjust="spacingAndGlyphs" >Wavelength (nm)</text>
<text x="0" y="0" font-size="21.00" font-weight="bold" text-anchor="middle" textLength="150.0" lengthAdjust="spacingAndGlyphs" transform="translate(367.5 127.6) rotate(-90)">Absorbance(a.u)</text>
<text x="351.6" y="21.0" font-size="30.00" font-weight="bold" text-anchor="start" fill="#000" >B</text>
<text x="491.5" y="22.6" font-size="13.5" font-weight="bold" textLength="86.5" lengthAdjust="spacingAndGlyphs">MB + NaBH<tspan font-size="9" dy="3">4</tspan></text>
<rect x="639.3" y="7.5" width="36.3" height="57.3" fill="#fff" stroke="#000" stroke-width="1.5"/>
<path d="M640.1 12.1H655.6" stroke="#e8161c" stroke-width="1.8"/>
<text x="656.9" y="14.5" font-size="6.80" font-weight="bold" text-anchor="start" fill="#000" >0 min</text>
<path d="M640.1 20.2H655.6" stroke="#22e622" stroke-width="1.8"/>
<text x="656.9" y="22.6" font-size="6.80" font-weight="bold" text-anchor="start" fill="#000" >15 min</text>
<path d="M640.1 28.2H655.6" stroke="#1c1cd6" stroke-width="1.8"/>
<text x="656.9" y="30.7" font-size="6.80" font-weight="bold" text-anchor="start" fill="#000" >30 min</text>
<path d="M640.1 36.3H655.6" stroke="#e622e6" stroke-width="1.8"/>
<text x="656.9" y="38.8" font-size="6.80" font-weight="bold" text-anchor="start" fill="#000" >45 min</text>
<path d="M640.1 44.4H655.6" stroke="#847c1c" stroke-width="1.8"/>
<text x="656.9" y="46.8" font-size="6.80" font-weight="bold" text-anchor="start" fill="#000" >60 min</text>
<path d="M640.1 52.5H655.6" stroke="#b4bcf0" stroke-width="1.8"/>
<text x="656.9" y="54.9" font-size="6.80" font-weight="bold" text-anchor="start" fill="#000" >75 min</text>
<path d="M640.1 60.5H655.6" stroke="#e6dc4a" stroke-width="1.8"/>
<text x="656.9" y="63.0" font-size="6.80" font-weight="bold" text-anchor="start" fill="#000" >90 min</text>
<defs><linearGradient id="blB" x1="0" x2="1" y1="0" y2="0.15"><stop offset="0" stop-color="#1c84d6"/><stop offset="0.28" stop-color="#0f60b6"/><stop offset="0.5" stop-color="#1a7cd0"/><stop offset="0.75" stop-color="#2292e0"/><stop offset="1" stop-color="#1c88da"/></linearGradient><linearGradient id="grB" x1="0" x2="0" y1="0" y2="1"><stop offset="0" stop-color="#62c0cc"/><stop offset="0.08" stop-color="#3aa4b4"/><stop offset="0.85" stop-color="#3aa4b4"/><stop offset="1" stop-color="#2e8e9c"/></linearGradient></defs><rect x="647.9" y="73.7" width="21.6" height="37.6" fill="url(#blB)"/><rect x="656.3" y="116.6" width="4.7" height="24.2" fill="#000"/><path d="M653.6 140.3H663.6L658.6 148.2Z" fill="#000"/><rect x="647.9" y="151.6" width="21.6" height="44.7" fill="url(#grB)"/><rect x="655.0" y="156.1" width="1" height="20.1" fill="#62c0cc" opacity="0.4"/><rect x="661.3" y="156.1" width="1" height="20.1" fill="#62c0cc" opacity="0.4"/>
<rect x="465.5" y="42.1" width="104.6" height="83.6" fill="#fff" stroke="#1a1a1a" stroke-width="1.3"/><path d="M470.5 125.7V128.2M481.0 125.7V127.2M491.5 125.7V128.2M502.0 125.7V127.2M512.5 125.7V128.2M522.9 125.7V127.2M533.4 125.7V128.2M543.9 125.7V127.2M554.4 125.7V128.2M564.9 125.7V127.2M465.5 42.5H463.0M465.5 52.3H463.0M465.5 62.1H463.0M465.5 71.9H463.0M465.5 81.7H463.0M465.5 91.5H463.0M465.5 101.3H463.0M465.5 111.1H463.0M465.5 120.9H463.0" stroke="#1a1a1a" stroke-width="1" fill="none"/><text x="470.5" y="133.0" font-size="5.6" font-weight="bold" text-anchor="middle" fill="#222">0</text><text x="491.5" y="133.0" font-size="5.6" font-weight="bold" text-anchor="middle" fill="#222">20</text><text x="512.5" y="133.0" font-size="5.6" font-weight="bold" text-anchor="middle" fill="#222">40</text><text x="533.4" y="133.0" font-size="5.6" font-weight="bold" text-anchor="middle" fill="#222">60</text><text x="554.4" y="133.0" font-size="5.6" font-weight="bold" text-anchor="middle" fill="#222">80</text><text x="462.0" y="44.2" font-size="4.7" font-weight="bold" text-anchor="end" fill="#222">0.2</text><text x="462.0" y="54.0" font-size="4.7" font-weight="bold" text-anchor="end" fill="#222">0.0</text><text x="462.0" y="63.8" font-size="4.7" font-weight="bold" text-anchor="end" fill="#222">-0.2</text><text x="462.0" y="73.6" font-size="4.7" font-weight="bold" text-anchor="end" fill="#222">-0.4</text><text x="462.0" y="83.4" font-size="4.7" font-weight="bold" text-anchor="end" fill="#222">-0.6</text><text x="462.0" y="93.2" font-size="4.7" font-weight="bold" text-anchor="end" fill="#222">-0.8</text><text x="462.0" y="103.0" font-size="4.7" font-weight="bold" text-anchor="end" fill="#222">-1.0</text><text x="462.0" y="112.8" font-size="4.7" font-weight="bold" text-anchor="end" fill="#222">-1.2</text><text x="462.0" y="122.6" font-size="4.7" font-weight="bold" text-anchor="end" fill="#222">-1.4</text><path d="M470.5 52.3 L486.2 60.1 L502.0 65.5 L517.7 71.4 L533.4 79.7 L549.2 87.1 L564.9 117.0" stroke="#333" stroke-width="1" fill="none"/><path d="M470.5 48.4L564.9 104.2" stroke="#e8161c" stroke-width="1.7"/><circle cx="470.5" cy="52.3" r="1.6" fill="#a8a830"/><circle cx="486.2" cy="60.1" r="1.6" fill="#a8a830"/><circle cx="502.0" cy="65.5" r="1.6" fill="#a8a830"/><circle cx="517.7" cy="71.4" r="1.6" fill="#a8a830"/><circle cx="533.4" cy="79.7" r="1.6" fill="#a8a830"/><circle cx="549.2" cy="87.1" r="1.6" fill="#a8a830"/><circle cx="564.9" cy="117.0" r="1.6" fill="#a8a830"/><text x="478.6" y="118.0" font-size="15.0" font-weight="normal" fill="#1a1a1a" textLength="74.4" lengthAdjust="spacingAndGlyphs">R<tspan font-size="9.3" dy="-5.4">2</tspan><tspan dy="5.4"> = 0.88901</tspan></text><text x="0" y="0" font-size="10.0" font-weight="bold" text-anchor="middle" fill="#1a1a1a" textLength="36.0" lengthAdjust="spacingAndGlyphs" transform="translate(450.0 83.0) rotate(-90)">ln(A<tspan font-size="5.5" dy="1.8">t</tspan><tspan dy="-1.8">/A</tspan><tspan font-size="5.5" dy="1.8">0</tspan><tspan dy="-1.8">)</tspan></text><text x="517.6" y="144.5" font-size="10.0" font-weight="bold" text-anchor="middle" fill="#1a1a1a" textLength="20.8" lengthAdjust="spacingAndGlyphs">Time</text>
<clipPath id="clipC"><rect x="46.0" y="295.7" width="281.9" height="229.5"/></clipPath>
<g clip-path="url(#clipC)" fill="none" stroke-width="1.80" stroke-linejoin="round">
<path d="M58.2 528.5L58.9 526.3L59.6 524.1L60.3 521.5L61.0 518.7L61.7 515.9L62.4 513.3L63.1 511.1L63.9 509.3L64.6 507.4L65.3 505.8L66.0 504.7L66.7 504.2L67.4 504.5L68.1 505.1L68.8 506.0L69.5 506.8L70.2 507.3L70.9 507.9L71.6 508.5L72.3 509.0L73.0 509.5L73.7 509.7L74.4 509.8L75.1 509.6L75.8 509.1L76.5 508.4L77.2 507.6L77.9 506.6L78.7 505.6L79.4 504.4L80.1 503.3L80.8 502.1L81.5 501.0L82.2 499.8L82.9 498.3L83.6 496.6L84.3 494.7L85.0 492.8L85.7 491.0L86.4 489.4L87.1 488.0L87.8 487.0L88.5 486.6L89.2 486.7L89.9 487.4L90.6 488.6L91.3 490.1L92.0 491.8L92.7 493.4L93.5 494.7L94.2 495.8L94.9 496.5L95.6 497.2L96.3 497.8L97.0 498.4L97.7 499.0L98.4 499.5L99.1 500.0L99.8 500.5L100.5 500.9L101.2 501.3L101.9 501.7L102.6 502.1L103.3 502.5L104.0 502.8L104.7 503.1L105.4 503.5L106.1 503.8L106.8 504.2L107.5 504.6L108.3 505.0L109.0 505.5L109.7 506.0L110.4 506.5L111.1 507.1L111.8 507.8L112.5 508.4L113.2 509.1L113.9 509.7L114.6 510.4L115.3 511.1L116.0 511.7L116.7 512.3L117.4 512.9L118.1 513.5L118.8 514.1L119.5 514.7L120.2 515.4L120.9 516.0L121.6 516.6L122.3 517.2L123.1 517.7L123.8 518.2L124.5 518.7L125.2 519.0L125.9 519.3L126.6 519.5L127.3 519.6L128.0 519.7L128.7 519.8L129.4 519.9L130.1 520.0L130.8 520.0L131.5 520.1L132.2 520.2L132.9 520.2L133.6 520.3L134.3 520.3L135.0 520.4L135.7 520.4L136.4 520.5L137.1 520.5L137.9 520.5L138.6 520.6L139.3 520.6L140.0 520.6L140.7 520.6L141.4 520.6L142.1 520.7L142.8 520.7L143.5 520.7L144.2 520.7L144.9 520.7L145.6 520.7L146.3 520.7L147.0 520.7L147.7 520.8L148.4 520.8L149.1 520.8L149.8 520.8L150.5 520.8L151.2 520.8L151.9 520.8L152.7 520.8L153.4 520.8L154.1 520.8L154.8 520.8L155.5 520.8L156.2 520.9L156.9 520.9L157.6 520.9L158.3 520.9L159.0 520.9L159.7 520.9L160.4 520.9L161.1 520.9L161.8 520.9L162.5 520.9L163.2 520.9L163.9 520.9L164.6 521.0L165.3 521.0L166.0 521.0L166.7 521.0L167.5 521.0L168.2 521.0L168.9 521.0L169.6 521.0L170.3 521.0L171.0 521.0L171.7 521.0L172.4 521.0L173.1 521.1L173.8 521.1L174.5 521.1L175.2 521.1L175.9 521.1L176.6 521.1L177.3 521.1L178.0 521.1L178.7 521.1L179.4 521.1L180.1 521.1L180.8 521.1L181.5 521.1L182.3 521.1L183.0 521.1L183.7 521.0L184.4 521.0L185.1 521.0L185.8 521.0L186.5 521.0L187.2 520.9L187.9 520.9L188.6 520.9L189.3 520.9L190.0 520.9L190.7 520.9L191.4 520.8L192.1 520.8L192.8 520.8L193.5 520.8L194.2 520.8L194.9 520.7L195.6 520.7L196.3 520.7L197.1 520.7L197.8 520.6L198.5 520.6L199.2 520.6L199.9 520.5L200.6 520.5L201.3 520.5L202.0 520.4L202.7 520.3L203.4 520.3L204.1 520.2L204.8 520.1L205.5 520.1L206.2 520.0L206.9 519.9L207.6 519.7L208.3 519.6L209.0 519.4L209.7 519.3L210.4 519.1L211.1 518.9L211.9 518.7L212.6 518.4L213.3 518.2L214.0 517.9L214.7 517.6L215.4 517.3L216.1 516.9L216.8 516.5L217.5 516.1L218.2 515.6L218.9 515.1L219.6 514.5L220.3 513.9L221.0 513.3L221.7 512.6L222.4 511.9L223.1 511.1L223.8 510.2L224.5 509.3L225.2 508.3L225.9 507.2L226.7 506.1L227.4 505.0L228.1 503.8L228.8 502.6L229.5 501.4L230.2 500.2L230.9 498.9L231.6 497.7L232.3 496.6L233.0 495.6L233.7 494.8L234.4 494.0L235.1 493.3L235.8 492.7L236.5 492.1L237.2 491.6L237.9 491.2L238.6 490.9L239.3 490.6L240.0 490.4L240.7 490.2L241.5 490.0L242.2 489.9L242.9 489.8L243.6 489.6L244.3 489.5L245.0 489.4L245.7 489.3L246.4 489.1L247.1 488.9L247.8 488.7L248.5 488.4L249.2 488.0L249.9 487.5L250.6 486.9L251.3 486.3L252.0 485.5L252.7 484.6L253.4 483.6L254.1 482.5L254.8 481.4L255.5 480.1L256.3 478.8L257.0 477.5L257.7 476.3L258.4 475.0L259.1 473.7L259.8 472.5L260.5 471.6L261.2 470.9L261.9 470.3L262.6 469.8L263.3 469.6L264.0 469.6L264.7 470.0L265.4 470.6L266.1 471.2L266.8 472.0L267.5 473.2L268.2 474.6L268.9 476.5L269.6 479.2L270.3 482.2L271.1 485.7L271.8 489.8L272.5 493.6L273.2 496.5L273.9 499.1L274.6 501.5L275.3 503.7L276.0 505.7L276.7 507.5L277.4 509.2L278.1 510.8L278.8 512.4L279.5 513.9L280.2 515.4L280.9 516.5L281.6 517.5L282.3 518.4L283.0 519.1L283.7 519.7L284.4 520.2L285.1 520.6L285.8 521.0L286.6 521.4L287.3 521.7L288.0 521.9L288.7 522.1L289.4 522.3L290.1 522.5L290.8 522.6L291.5 522.8L292.2 522.9L292.9 523.0L293.6 523.2L294.3 523.3L295.0 523.4L295.7 523.5L296.4 523.5L297.1 523.6L297.8 523.7L298.5 523.8L299.2 523.8L299.9 523.9L300.6 524.0L301.4 524.0L302.1 524.1L302.8 524.1L303.5 524.1L304.2 524.2L304.9 524.2L305.6 524.3L306.3 524.3L307.0 524.4L307.7 524.4L308.4 524.4L309.1 524.5L309.8 524.5L310.5 524.5L311.2 524.6L311.9 524.6L312.6 524.6L313.3 524.7L314.0 524.7L314.7 524.7L315.4 524.8L316.2 524.8L316.9 524.8L317.6 524.8L318.3 524.9L319.0 524.9L319.7 524.9L320.4 525.0L321.1 525.0L321.8 525.0L322.5 525.0L323.2 525.1L323.9 525.1L324.6 525.1L325.3 525.1L326.0 525.1L326.7 525.2L327.4 525.2" stroke="#1c1cd6"/>
<path d="M52.6 528.5L53.3 527.0L54.0 525.2L54.7 522.9L55.4 520.1L56.1 517.0L56.8 513.6L57.5 510.1L58.2 506.7L58.9 503.5L59.6 500.6L60.3 497.9L61.0 495.3L61.7 492.8L62.4 490.5L63.1 488.5L63.9 486.4L64.6 484.4L65.3 482.6L66.0 481.4L66.7 480.9L67.4 481.2L68.1 481.9L68.8 482.8L69.5 483.7L70.2 484.5L70.9 485.3L71.6 486.3L72.3 487.2L73.0 487.9L73.7 488.3L74.4 488.1L75.1 487.1L75.8 485.5L76.5 483.4L77.2 481.0L77.9 478.7L78.7 476.6L79.4 474.9L80.1 473.2L80.8 471.5L81.5 469.8L82.2 468.1L82.9 466.5L83.6 464.9L84.3 463.4L85.0 461.9L85.7 460.2L86.4 458.5L87.1 457.0L87.8 455.9L88.5 455.3L89.2 455.4L89.9 456.4L90.6 458.1L91.3 460.2L92.0 462.7L92.7 465.3L93.5 467.9L94.2 470.3L94.9 473.1L95.6 476.3L96.3 479.5L97.0 482.2L97.7 484.2L98.4 485.6L99.1 486.8L99.8 487.8L100.5 488.7L101.2 489.5L101.9 490.3L102.6 491.1L103.3 491.9L104.0 492.7L104.7 493.5L105.4 494.3L106.1 495.0L106.8 495.8L107.5 496.5L108.3 497.2L109.0 498.0L109.7 498.7L110.4 499.5L111.1 500.3L111.8 501.2L112.5 502.2L113.2 503.2L113.9 504.3L114.6 505.4L115.3 506.5L116.0 507.5L116.7 508.5L117.4 509.4L118.1 510.2L118.8 510.9L119.5 511.6L120.2 512.3L120.9 512.9L121.6 513.6L122.3 514.1L123.1 514.6L123.8 515.0L124.5 515.2L125.2 515.4L125.9 515.5L126.6 515.6L127.3 515.7L128.0 515.8L128.7 515.9L129.4 516.0L130.1 516.0L130.8 516.1L131.5 516.1L132.2 516.1L132.9 516.2L133.6 516.2L134.3 516.3L135.0 516.3L135.7 516.3L136.4 516.3L137.1 516.4L137.9 516.4L138.6 516.4L139.3 516.4L140.0 516.5L140.7 516.5L141.4 516.5L142.1 516.5L142.8 516.5L143.5 516.6L144.2 516.6L144.9 516.6L145.6 516.6L146.3 516.6L147.0 516.6L147.7 516.7L148.4 516.7L149.1 516.7L149.8 516.7L150.5 516.7L151.2 516.7L151.9 516.7L152.7 516.8L153.4 516.8L154.1 516.8L154.8 516.8L155.5 516.8L156.2 516.8L156.9 516.8L157.6 516.9L158.3 516.9L159.0 516.9L159.7 516.9L160.4 516.9L161.1 516.9L161.8 517.0L162.5 517.0L163.2 517.0L163.9 517.0L164.6 517.0L165.3 517.1L166.0 517.1L166.7 517.1L167.5 517.1L168.2 517.2L168.9 517.2L169.6 517.2L170.3 517.2L171.0 517.2L171.7 517.3L172.4 517.3L173.1 517.3L173.8 517.3L174.5 517.4L175.2 517.4L175.9 517.4L176.6 517.4L177.3 517.5L178.0 517.5L178.7 517.5L179.4 517.5L180.1 517.5L180.8 517.5L181.5 517.5L182.3 517.5L183.0 517.4L183.7 517.4L184.4 517.4L185.1 517.4L185.8 517.3L186.5 517.3L187.2 517.3L187.9 517.3L188.6 517.2L189.3 517.2L190.0 517.2L190.7 517.1L191.4 517.1L192.1 517.1L192.8 517.0L193.5 517.0L194.2 516.9L194.9 516.9L195.6 516.8L196.3 516.8L197.1 516.7L197.8 516.7L198.5 516.6L199.2 516.5L199.9 516.5L200.6 516.4L201.3 516.3L202.0 516.2L202.7 516.1L203.4 516.0L204.1 515.8L204.8 515.7L205.5 515.6L206.2 515.4L206.9 515.2L207.6 515.0L208.3 514.8L209.0 514.5L209.7 514.2L210.4 513.9L211.1 513.6L211.9 513.2L212.6 512.9L213.3 512.5L214.0 512.0L214.7 511.5L215.4 510.9L216.1 510.3L216.8 509.6L217.5 508.9L218.2 508.2L218.9 507.3L219.6 506.4L220.3 505.4L221.0 504.4L221.7 503.2L222.4 502.0L223.1 500.7L223.8 499.2L224.5 497.7L225.2 496.0L225.9 494.3L226.7 492.5L227.4 490.6L228.1 488.6L228.8 486.7L229.5 484.7L230.2 482.7L230.9 480.6L231.6 478.5L232.3 476.7L233.0 475.1L233.7 473.7L234.4 472.4L235.1 471.3L235.8 470.3L236.5 469.4L237.2 468.5L237.9 467.8L238.6 467.3L239.3 466.8L240.0 466.5L240.7 466.2L241.5 465.9L242.2 465.7L242.9 465.5L243.6 465.3L244.3 465.1L245.0 464.9L245.7 464.7L246.4 464.4L247.1 464.1L247.8 463.7L248.5 463.2L249.2 462.5L249.9 461.7L250.6 460.7L251.3 459.7L252.0 458.4L252.7 456.9L253.4 455.3L254.1 453.5L254.8 451.6L255.5 449.6L256.3 447.5L257.0 445.3L257.7 443.3L258.4 441.1L259.1 439.0L259.8 437.1L260.5 435.6L261.2 434.4L261.9 433.4L262.6 432.6L263.3 432.2L264.0 432.3L264.7 433.0L265.4 433.9L266.1 434.9L266.8 436.3L267.5 438.2L268.2 440.5L268.9 443.7L269.6 448.1L270.3 453.2L271.1 458.9L271.8 465.7L272.5 472.0L273.2 476.8L273.9 481.0L274.6 485.0L275.3 488.7L276.0 492.0L276.7 495.0L277.4 497.8L278.1 500.5L278.8 503.1L279.5 505.6L280.2 508.0L280.9 509.9L281.6 511.5L282.3 513.0L283.0 514.2L283.7 515.2L284.4 516.0L285.1 516.8L285.8 517.4L286.6 518.0L287.3 518.5L288.0 518.9L288.7 519.2L289.4 519.6L290.1 519.9L290.8 520.2L291.5 520.4L292.2 520.6L292.9 520.8L293.6 521.0L294.3 521.2L295.0 521.4L295.7 521.6L296.4 521.7L297.1 521.9L297.8 522.0L298.5 522.2L299.2 522.3L299.9 522.4L300.6 522.5L301.4 522.6L302.1 522.7L302.8 522.8L303.5 522.9L304.2 522.9L304.9 523.0L305.6 523.1L306.3 523.2L307.0 523.3L307.7 523.4L308.4 523.4L309.1 523.5L309.8 523.6L310.5 523.7L311.2 523.7L311.9 523.8L312.6 523.9L313.3 523.9L314.0 524.0L314.7 524.1L315.4 524.1L316.2 524.2L316.9 524.3L317.6 524.3L318.3 524.4L319.0 524.5L319.7 524.5L320.4 524.6L321.1 524.7L321.8 524.7L322.5 524.8L323.2 524.8L323.9 524.9L324.6 524.9L325.3 525.0L326.0 525.1L326.7 525.1L327.4 525.2" stroke="#888020"/>
<path d="M51.6 528.5L52.3 526.0L53.0 523.5L53.8 520.8L54.5 518.1L55.2 515.3L55.9 512.4L56.6 509.4L57.3 506.3L58.0 503.0L58.7 499.7L59.4 496.6L60.1 493.9L60.8 491.2L61.5 488.6L62.2 486.3L62.9 484.2L63.6 482.2L64.3 480.1L65.0 478.3L65.7 476.8L66.4 476.1L67.1 476.2L67.8 477.1L68.6 478.4L69.3 479.8L70.0 480.9L70.7 482.0L71.4 483.1L72.1 484.2L72.8 485.1L73.5 485.7L74.2 485.8L74.9 485.1L75.6 483.6L76.3 481.5L77.0 479.1L77.7 476.6L78.4 474.2L79.1 472.1L79.8 470.1L80.5 468.0L81.2 465.8L81.9 463.7L82.6 461.6L83.4 459.6L84.1 457.6L84.8 455.7L85.5 453.7L86.2 451.5L86.9 449.4L87.6 447.8L88.3 446.7L89.0 446.6L89.7 447.6L90.4 449.5L91.1 452.0L91.8 455.1L92.5 458.4L93.2 461.6L93.9 464.6L94.6 467.7L95.3 471.2L96.0 474.7L96.7 477.9L97.4 480.4L98.2 481.9L98.9 483.1L99.6 484.2L100.3 485.1L101.0 485.9L101.7 486.7L102.4 487.5L103.1 488.3L103.8 489.1L104.5 490.1L105.2 491.0L105.9 491.9L106.6 492.8L107.3 493.6L108.0 494.5L108.7 495.4L109.4 496.4L110.1 497.3L110.8 498.3L111.5 499.3L112.2 500.4L113.0 501.7L113.7 502.9L114.4 504.2L115.1 505.5L115.8 506.8L116.5 507.9L117.2 509.0L117.9 509.9L118.6 510.7L119.3 511.4L120.0 512.1L120.7 512.8L121.4 513.4L122.1 514.0L122.8 514.5L123.5 514.9L124.2 515.2L124.9 515.4L125.6 515.5L126.3 515.6L127.0 515.7L127.8 515.8L128.5 515.9L129.2 515.9L129.9 516.0L130.6 516.0L131.3 516.1L132.0 516.1L132.7 516.2L133.4 516.2L134.1 516.2L134.8 516.3L135.5 516.3L136.2 516.3L136.9 516.4L137.6 516.4L138.3 516.4L139.0 516.5L139.7 516.5L140.4 516.5L141.1 516.5L141.8 516.6L142.6 516.6L143.3 516.6L144.0 516.6L144.7 516.7L145.4 516.7L146.1 516.7L146.8 516.7L147.5 516.8L148.2 516.8L148.9 516.8L149.6 516.8L150.3 516.8L151.0 516.9L151.7 516.9L152.4 516.9L153.1 516.9L153.8 516.9L154.5 516.9L155.2 516.9L155.9 516.9L156.6 517.0L157.4 517.0L158.1 517.0L158.8 517.0L159.5 517.0L160.2 517.0L160.9 517.0L161.6 517.0L162.3 517.0L163.0 517.0L163.7 517.0L164.4 517.0L165.1 517.0L165.8 517.0L166.5 517.0L167.2 517.0L167.9 517.0L168.6 517.0L169.3 517.0L170.0 517.0L170.7 517.0L171.4 517.0L172.2 517.0L172.9 517.0L173.6 517.0L174.3 517.0L175.0 517.0L175.7 517.0L176.4 517.0L177.1 517.0L177.8 517.0L178.5 517.0L179.2 517.0L179.9 516.9L180.6 516.9L181.3 516.9L182.0 516.8L182.7 516.8L183.4 516.7L184.1 516.6L184.8 516.6L185.5 516.5L186.2 516.5L186.9 516.4L187.7 516.3L188.4 516.3L189.1 516.2L189.8 516.2L190.5 516.1L191.2 516.1L191.9 516.0L192.6 516.0L193.3 515.9L194.0 515.9L194.7 515.8L195.4 515.8L196.1 515.7L196.8 515.7L197.5 515.6L198.2 515.5L198.9 515.5L199.6 515.4L200.3 515.3L201.0 515.2L201.7 515.1L202.5 515.0L203.2 514.9L203.9 514.7L204.6 514.6L205.3 514.4L206.0 514.3L206.7 514.1L207.4 513.8L208.1 513.6L208.8 513.3L209.5 513.0L210.2 512.6L210.9 512.3L211.6 511.9L212.3 511.5L213.0 511.0L213.7 510.5L214.4 510.0L215.1 509.4L215.8 508.7L216.5 507.9L217.3 507.2L218.0 506.4L218.7 505.4L219.4 504.4L220.1 503.4L220.8 502.2L221.5 501.0L222.2 499.6L222.9 498.2L223.6 496.6L224.3 494.9L225.0 493.1L225.7 491.2L226.4 489.2L227.1 487.1L227.8 484.9L228.5 482.7L229.2 480.5L229.9 478.3L230.6 475.9L231.3 473.6L232.1 471.4L232.8 469.6L233.5 468.0L234.2 466.5L234.9 465.1L235.6 464.0L236.3 462.9L237.0 461.9L237.7 461.1L238.4 460.4L239.1 459.9L239.8 459.5L240.5 459.1L241.2 458.8L241.9 458.5L242.6 458.3L243.3 458.1L244.0 457.9L244.7 457.7L245.4 457.4L246.1 457.1L246.9 456.8L247.6 456.4L248.3 455.9L249.0 455.2L249.7 454.3L250.4 453.3L251.1 452.1L251.8 450.8L252.5 449.2L253.2 447.4L253.9 445.4L254.6 443.4L255.3 441.2L256.0 438.8L256.7 436.4L257.4 434.1L258.1 431.8L258.8 429.4L259.5 427.1L260.2 425.2L260.9 423.9L261.7 422.7L262.4 421.7L263.1 421.1L263.8 421.0L264.5 421.5L265.2 422.5L265.9 423.6L266.6 425.0L267.3 426.9L268.0 429.3L268.7 432.5L269.4 437.0L270.1 442.5L270.8 448.4L271.5 455.9L272.2 463.4L272.9 469.1L273.6 474.1L274.3 478.6L275.0 482.8L275.7 486.7L276.5 490.1L277.2 493.4L277.9 496.4L278.6 499.3L279.3 502.2L280.0 504.9L280.7 507.3L281.4 509.2L282.1 510.9L282.8 512.3L283.5 513.5L284.2 514.5L284.9 515.4L285.6 516.1L286.3 516.8L287.0 517.4L287.7 517.8L288.4 518.3L289.1 518.7L289.8 519.0L290.5 519.3L291.3 519.6L292.0 519.9L292.7 520.1L293.4 520.4L294.1 520.6L294.8 520.8L295.5 521.0L296.2 521.2L296.9 521.3L297.6 521.5L298.3 521.6L299.0 521.8L299.7 521.9L300.4 522.0L301.1 522.1L301.8 522.2L302.5 522.3L303.2 522.4L303.9 522.6L304.6 522.7L305.3 522.7L306.1 522.8L306.8 522.9L307.5 523.0L308.2 523.1L308.9 523.2L309.6 523.3L310.3 523.4L311.0 523.5L311.7 523.5L312.4 523.6L313.1 523.7L313.8 523.8L314.5 523.8L315.2 523.9L315.9 524.0L316.6 524.1L317.3 524.2L318.0 524.2L318.7 524.3L319.4 524.4L320.1 524.5L320.9 524.5L321.6 524.6L322.3 524.7L323.0 524.7L323.7 524.8L324.4 524.9L325.1 524.9L325.8 525.0L326.5 525.1L327.2 525.1L327.9 525.2" stroke="#6a8ae6"/>
<path d="M49.8 528.5L50.5 524.0L51.2 520.7L51.9 517.8L52.6 515.2L53.3 512.8L54.0 510.5L54.7 508.2L55.4 505.8L56.1 503.6L56.8 501.5L57.5 499.4L58.2 497.2L58.9 494.9L59.6 492.4L60.3 489.5L61.0 486.1L61.7 482.7L62.4 479.5L63.1 476.8L63.9 473.9L64.6 471.1L65.3 468.6L66.0 466.9L66.7 466.2L67.4 467.0L68.1 469.1L68.8 471.9L69.5 474.6L70.2 476.7L70.9 478.9L71.6 481.1L72.3 483.2L73.0 484.9L73.7 485.8L74.4 485.7L75.1 484.6L75.8 482.7L76.5 480.3L77.2 477.5L77.9 474.7L78.7 471.9L79.4 469.4L80.1 466.7L80.8 463.8L81.5 460.8L82.2 457.7L82.9 454.7L83.6 451.8L84.3 449.0L85.0 446.4L85.7 443.4L86.4 440.3L87.1 437.6L87.8 435.6L88.5 434.5L89.2 434.7L89.9 436.3L90.6 438.9L91.3 442.3L92.0 446.2L92.7 450.2L93.5 454.0L94.2 457.5L94.9 461.5L95.6 465.8L96.3 469.9L97.0 473.5L97.7 476.0L98.4 477.7L99.1 479.1L99.8 480.4L100.5 481.5L101.2 482.4L101.9 483.4L102.6 484.3L103.3 485.2L104.0 486.2L104.7 487.2L105.4 488.1L106.1 489.0L106.8 489.8L107.5 490.7L108.3 491.6L109.0 492.4L109.7 493.4L110.4 494.3L111.1 495.3L111.8 496.5L112.5 497.7L113.2 499.1L113.9 500.6L114.6 502.1L115.3 503.6L116.0 505.0L116.7 506.3L117.4 507.5L118.1 508.5L118.8 509.4L119.5 510.2L120.2 511.0L120.9 511.8L121.6 512.5L122.3 513.1L123.1 513.7L123.8 514.1L124.5 514.4L125.2 514.6L125.9 514.7L126.6 514.8L127.3 514.9L128.0 515.0L128.7 515.1L129.4 515.1L130.1 515.2L130.8 515.2L131.5 515.3L132.2 515.3L132.9 515.4L133.6 515.4L134.3 515.4L135.0 515.5L135.7 515.5L136.4 515.5L137.1 515.5L137.9 515.6L138.6 515.6L139.3 515.6L140.0 515.6L140.7 515.7L141.4 515.7L142.1 515.7L142.8 515.7L143.5 515.7L144.2 515.8L144.9 515.8L145.6 515.8L146.3 515.8L147.0 515.8L147.7 515.8L148.4 515.8L149.1 515.9L149.8 515.9L150.5 515.9L151.2 515.9L151.9 515.9L152.7 515.9L153.4 515.9L154.1 516.0L154.8 516.0L155.5 516.0L156.2 516.0L156.9 516.0L157.6 516.0L158.3 516.0L159.0 516.1L159.7 516.1L160.4 516.1L161.1 516.1L161.8 516.1L162.5 516.2L163.2 516.2L163.9 516.2L164.6 516.2L165.3 516.2L166.0 516.3L166.7 516.3L167.5 516.3L168.2 516.3L168.9 516.4L169.6 516.4L170.3 516.4L171.0 516.4L171.7 516.4L172.4 516.5L173.1 516.5L173.8 516.5L174.5 516.5L175.2 516.6L175.9 516.6L176.6 516.6L177.3 516.6L178.0 516.7L178.7 516.7L179.4 516.7L180.1 516.7L180.8 516.6L181.5 516.6L182.3 516.6L183.0 516.5L183.7 516.5L184.4 516.5L185.1 516.4L185.8 516.4L186.5 516.3L187.2 516.3L187.9 516.2L188.6 516.2L189.3 516.2L190.0 516.1L190.7 516.1L191.4 516.0L192.1 515.9L192.8 515.9L193.5 515.8L194.2 515.8L194.9 515.7L195.6 515.6L196.3 515.5L197.1 515.4L197.8 515.3L198.5 515.2L199.2 515.1L199.9 515.0L200.6 514.9L201.3 514.8L202.0 514.6L202.7 514.5L203.4 514.3L204.1 514.2L204.8 514.0L205.5 513.8L206.2 513.6L206.9 513.3L207.6 513.0L208.3 512.7L209.0 512.4L209.7 512.0L210.4 511.6L211.1 511.1L211.9 510.6L212.6 510.1L213.3 509.6L214.0 509.0L214.7 508.3L215.4 507.6L216.1 506.7L216.8 505.9L217.5 504.9L218.2 503.9L218.9 502.8L219.6 501.6L220.3 500.3L221.0 498.9L221.7 497.4L222.4 495.8L223.1 494.1L223.8 492.1L224.5 490.1L225.2 487.9L225.9 485.7L226.7 483.3L227.4 480.8L228.1 478.2L228.8 475.6L229.5 473.0L230.2 470.3L230.9 467.5L231.6 464.9L232.3 462.5L233.0 460.4L233.7 458.5L234.4 456.8L235.1 455.3L235.8 454.0L236.5 452.8L237.2 451.7L237.9 450.8L238.6 450.0L239.3 449.4L240.0 449.0L240.7 448.6L241.5 448.2L242.2 447.9L242.9 447.6L243.6 447.4L244.3 447.1L245.0 446.9L245.7 446.5L246.4 446.2L247.1 445.7L247.8 445.2L248.5 444.6L249.2 443.7L249.9 442.6L250.6 441.3L251.3 439.9L252.0 438.3L252.7 436.3L253.4 434.1L254.1 431.8L254.8 429.3L255.5 426.7L256.3 423.8L257.0 421.0L257.7 418.3L258.4 415.5L259.1 412.7L259.8 410.2L260.5 408.2L261.2 406.7L261.9 405.4L262.6 404.3L263.3 403.8L264.0 403.9L264.7 404.7L265.4 405.9L266.1 407.3L266.8 409.1L267.5 411.5L268.2 414.6L268.9 418.8L269.6 424.6L270.3 431.2L271.1 438.6L271.8 447.7L272.5 455.8L273.2 462.1L273.9 467.7L274.6 472.9L275.3 477.7L276.0 482.0L276.7 486.0L277.4 489.7L278.1 493.2L278.8 496.6L279.5 499.9L280.2 503.0L280.9 505.6L281.6 507.7L282.3 509.5L283.0 511.1L283.7 512.4L284.4 513.5L285.1 514.5L285.8 515.3L286.6 516.1L287.3 516.7L288.0 517.2L288.7 517.7L289.4 518.1L290.1 518.5L290.8 518.9L291.5 519.2L292.2 519.5L292.9 519.8L293.6 520.0L294.3 520.3L295.0 520.5L295.7 520.7L296.4 520.9L297.1 521.1L297.8 521.3L298.5 521.4L299.2 521.6L299.9 521.7L300.6 521.8L301.4 522.0L302.1 522.1L302.8 522.2L303.5 522.3L304.2 522.4L304.9 522.5L305.6 522.6L306.3 522.7L307.0 522.8L307.7 522.9L308.4 523.0L309.1 523.1L309.8 523.2L310.5 523.3L311.2 523.4L311.9 523.5L312.6 523.6L313.3 523.6L314.0 523.7L314.7 523.8L315.4 523.9L316.2 524.0L316.9 524.1L317.6 524.1L318.3 524.2L319.0 524.3L319.7 524.4L320.4 524.5L321.1 524.5L321.8 524.6L322.5 524.7L323.2 524.8L323.9 524.8L324.6 524.9L325.3 525.0L326.0 525.0L326.7 525.1L327.4 525.2" stroke="#7a1c8c"/>
<path d="M51.6 528.5L52.3 526.0L53.0 523.6L53.8 521.1L54.5 518.8L55.2 516.5L55.9 514.2L56.6 511.9L57.3 509.6L58.0 507.1L58.7 504.5L59.4 501.6L60.1 498.3L60.8 494.3L61.5 490.0L62.2 485.9L62.9 482.6L63.6 479.7L64.3 476.8L65.0 474.2L65.7 472.2L66.4 471.2L67.1 471.6L67.8 473.7L68.6 476.7L69.3 479.9L70.0 482.6L70.7 484.9L71.4 487.3L72.1 489.6L72.8 491.5L73.5 492.8L74.2 493.0L74.9 492.1L75.6 490.3L76.3 487.7L77.0 484.6L77.7 481.3L78.4 478.1L79.1 475.0L79.8 471.7L80.5 468.1L81.2 464.2L81.9 460.2L82.6 456.2L83.4 452.4L84.1 448.7L84.8 445.4L85.5 441.8L86.2 438.0L86.9 434.5L87.6 431.6L88.3 429.9L89.0 429.6L89.7 431.3L90.4 434.7L91.1 439.3L91.8 444.6L92.5 450.0L93.2 455.2L93.9 459.6L94.6 463.7L95.3 468.0L96.0 472.2L96.7 475.8L97.4 478.6L98.2 480.5L98.9 482.0L99.6 483.3L100.3 484.4L101.0 485.4L101.7 486.3L102.4 487.2L103.1 488.2L103.8 489.1L104.5 490.1L105.2 491.1L105.9 492.0L106.6 492.9L107.3 493.8L108.0 494.6L108.7 495.5L109.4 496.4L110.1 497.3L110.8 498.3L111.5 499.3L112.2 500.4L113.0 501.6L113.7 502.8L114.4 504.1L115.1 505.3L115.8 506.5L116.5 507.7L117.2 508.8L117.9 509.8L118.6 510.7L119.3 511.6L120.0 512.4L120.7 513.2L121.4 513.9L122.1 514.6L122.8 515.3L123.5 515.9L124.2 516.5L124.9 517.0L125.6 517.5L126.3 518.0L127.0 518.5L127.8 518.9L128.5 519.4L129.2 519.8L129.9 520.2L130.6 520.5L131.3 520.8L132.0 521.0L132.7 521.1L133.4 521.1L134.1 521.2L134.8 521.2L135.5 521.3L136.2 521.3L136.9 521.4L137.6 521.4L138.3 521.5L139.0 521.5L139.7 521.6L140.4 521.6L141.1 521.6L141.8 521.7L142.6 521.7L143.3 521.7L144.0 521.7L144.7 521.8L145.4 521.8L146.1 521.8L146.8 521.8L147.5 521.9L148.2 521.9L148.9 521.9L149.6 521.9L150.3 521.9L151.0 521.9L151.7 521.9L152.4 521.9L153.1 521.9L153.8 521.9L154.5 521.9L155.2 521.9L155.9 521.9L156.6 521.9L157.4 521.8L158.1 521.8L158.8 521.8L159.5 521.7L160.2 521.7L160.9 521.6L161.6 521.6L162.3 521.5L163.0 521.4L163.7 521.4L164.4 521.3L165.1 521.2L165.8 521.1L166.5 521.0L167.2 521.0L167.9 520.9L168.6 520.8L169.3 520.7L170.0 520.6L170.7 520.5L171.4 520.4L172.2 520.3L172.9 520.2L173.6 520.1L174.3 520.0L175.0 519.9L175.7 519.8L176.4 519.7L177.1 519.6L177.8 519.5L178.5 519.4L179.2 519.3L179.9 519.2L180.6 519.1L181.3 518.9L182.0 518.8L182.7 518.6L183.4 518.5L184.1 518.3L184.8 518.2L185.5 518.0L186.2 517.9L186.9 517.7L187.7 517.6L188.4 517.5L189.1 517.3L189.8 517.2L190.5 517.1L191.2 516.9L191.9 516.8L192.6 516.6L193.3 516.4L194.0 516.3L194.7 516.1L195.4 515.9L196.1 515.7L196.8 515.6L197.5 515.4L198.2 515.2L198.9 515.0L199.6 514.8L200.3 514.6L201.0 514.3L201.7 514.1L202.5 513.8L203.2 513.6L203.9 513.3L204.6 513.0L205.3 512.8L206.0 512.4L206.7 512.1L207.4 511.7L208.1 511.2L208.8 510.8L209.5 510.2L210.2 509.7L210.9 509.1L211.6 508.4L212.3 507.7L213.0 507.0L213.7 506.2L214.4 505.4L215.1 504.4L215.8 503.3L216.5 502.2L217.3 500.9L218.0 499.6L218.7 498.2L219.4 496.7L220.1 495.0L220.8 493.2L221.5 491.3L222.2 489.3L222.9 487.0L223.6 484.6L224.3 481.9L225.0 479.1L225.7 476.3L226.4 473.2L227.1 470.0L227.8 466.7L228.5 463.3L229.2 459.9L229.9 456.5L230.6 452.9L231.3 449.3L232.1 446.1L232.8 443.3L233.5 440.7L234.2 438.4L234.9 436.4L235.6 434.6L236.3 432.9L237.0 431.4L237.7 430.1L238.4 429.0L239.1 428.2L239.8 427.5L240.5 427.0L241.2 426.4L241.9 426.0L242.6 425.6L243.3 425.2L244.0 424.9L244.7 424.5L245.4 424.1L246.1 423.6L246.9 423.1L247.6 422.4L248.3 421.6L249.0 420.5L249.7 419.2L250.4 417.6L251.1 415.9L251.8 413.9L252.5 411.4L253.2 408.6L253.9 405.6L254.6 402.5L255.3 399.2L256.0 395.6L256.7 391.9L257.4 388.3L258.1 384.8L258.8 381.1L259.5 377.7L260.2 374.8L260.9 372.8L261.7 371.0L262.4 369.4L263.1 368.5L263.8 368.3L264.5 369.1L265.2 370.5L265.9 372.1L266.6 374.2L267.3 377.1L268.0 380.7L268.7 385.5L269.4 392.3L270.1 400.5L270.8 409.5L271.5 420.7L272.2 431.9L272.9 440.6L273.6 448.0L274.3 454.8L275.0 461.2L275.7 467.0L276.5 472.2L277.2 477.0L277.9 481.6L278.6 486.0L279.3 490.3L280.0 494.4L280.7 498.0L281.4 500.8L282.1 503.3L282.8 505.5L283.5 507.3L284.2 508.7L284.9 510.0L285.6 511.2L286.3 512.2L287.0 513.0L287.7 513.7L288.4 514.4L289.1 514.9L289.8 515.5L290.5 515.9L291.3 516.4L292.0 516.8L292.7 517.1L293.4 517.4L294.1 517.8L294.8 518.1L295.5 518.3L296.2 518.6L296.9 518.9L297.6 519.1L298.3 519.3L299.0 519.5L299.7 519.7L300.4 519.9L301.1 520.1L301.8 520.2L302.5 520.4L303.2 520.6L303.9 520.7L304.6 520.9L305.3 521.0L306.1 521.2L306.8 521.3L307.5 521.5L308.2 521.6L308.9 521.7L309.6 521.9L310.3 522.0L311.0 522.1L311.7 522.3L312.4 522.4L313.1 522.5L313.8 522.7L314.5 522.8L315.2 522.9L315.9 523.1L316.6 523.2L317.3 523.3L318.0 523.4L318.7 523.6L319.4 523.7L320.1 523.8L320.9 524.0L321.6 524.1L322.3 524.2L323.0 524.3L323.7 524.5L324.4 524.6L325.1 524.7L325.8 524.8L326.5 525.0L327.2 525.1L327.9 525.2" stroke="#e622e6"/>
<path d="M46.0 520.3L46.7 516.2L47.4 512.6L48.1 509.6L48.8 507.3L49.5 505.1L50.2 503.3L50.9 502.0L51.6 501.4L52.3 501.0L53.0 500.7L53.8 500.4L54.5 499.8L55.2 498.3L55.9 495.3L56.6 491.5L57.3 487.0L58.0 482.5L58.7 478.2L59.4 474.6L60.1 471.8L60.8 469.2L61.5 466.8L62.2 464.7L62.9 462.9L63.6 461.3L64.3 459.6L65.0 458.1L65.7 457.0L66.4 456.4L67.1 456.7L67.8 458.2L68.6 460.4L69.3 462.7L70.0 464.6L70.7 466.0L71.4 467.6L72.1 469.0L72.8 470.2L73.5 470.9L74.2 471.1L74.9 470.5L75.6 469.4L76.3 467.6L77.0 465.4L77.7 462.7L78.4 459.7L79.1 456.5L79.8 453.1L80.5 449.6L81.2 446.1L81.9 442.7L82.6 439.2L83.4 435.1L84.1 430.6L84.8 425.9L85.5 421.4L86.2 417.3L86.9 412.5L87.6 407.9L88.3 404.6L89.0 404.1L89.7 406.1L90.4 410.2L91.1 415.9L91.8 422.6L92.5 429.8L93.2 437.0L93.9 443.7L94.6 449.5L95.3 454.6L96.0 460.2L96.7 465.8L97.4 470.8L98.2 474.8L98.9 477.3L99.6 478.1L100.3 478.6L101.0 479.0L101.7 479.5L102.4 480.0L103.1 480.6L103.8 481.1L104.5 481.7L105.2 482.2L105.9 482.8L106.6 483.4L107.3 484.1L108.0 484.8L108.7 485.6L109.4 486.5L110.1 487.4L110.8 488.4L111.5 489.6L112.2 491.4L113.0 493.8L113.7 496.4L114.4 498.7L115.1 500.3L115.8 501.4L116.5 502.4L117.2 503.3L117.9 504.1L118.6 504.8L119.3 505.5L120.0 506.1L120.7 506.7L121.4 507.3L122.1 507.9L122.8 508.4L123.5 509.1L124.2 509.7L124.9 510.4L125.6 511.3L126.3 512.3L127.0 513.2L127.8 514.0L128.5 514.5L129.2 514.6L129.9 514.7L130.6 514.8L131.3 514.9L132.0 514.9L132.7 515.0L133.4 515.1L134.1 515.1L134.8 515.1L135.5 515.2L136.2 515.2L136.9 515.2L137.6 515.3L138.3 515.3L139.0 515.3L139.7 515.4L140.4 515.4L141.1 515.4L141.8 515.5L142.6 515.5L143.3 515.5L144.0 515.6L144.7 515.6L145.4 515.6L146.1 515.7L146.8 515.7L147.5 515.7L148.2 515.8L148.9 515.8L149.6 515.8L150.3 515.9L151.0 515.9L151.7 515.9L152.4 515.9L153.1 516.0L153.8 516.0L154.5 516.0L155.2 516.0L155.9 516.1L156.6 516.1L157.4 516.1L158.1 516.1L158.8 516.1L159.5 516.2L160.2 516.2L160.9 516.2L161.6 516.2L162.3 516.2L163.0 516.2L163.7 516.2L164.4 516.2L165.1 516.2L165.8 516.2L166.5 516.2L167.2 516.2L167.9 516.2L168.6 516.2L169.3 516.2L170.0 516.2L170.7 516.2L171.4 516.2L172.2 516.2L172.9 516.2L173.6 516.2L174.3 516.2L175.0 516.2L175.7 516.2L176.4 516.2L177.1 516.2L177.8 516.2L178.5 516.2L179.2 516.1L179.9 516.1L180.6 516.0L181.3 516.0L182.0 515.9L182.7 515.8L183.4 515.7L184.1 515.6L184.8 515.5L185.5 515.4L186.2 515.3L186.9 515.2L187.7 515.1L188.4 515.0L189.1 514.9L189.8 514.8L190.5 514.7L191.2 514.6L191.9 514.5L192.6 514.4L193.3 514.3L194.0 514.2L194.7 514.1L195.4 513.9L196.1 513.8L196.8 513.7L197.5 513.6L198.2 513.4L198.9 513.3L199.6 513.1L200.3 512.9L201.0 512.7L201.7 512.5L202.5 512.3L203.2 512.1L203.9 511.9L204.6 511.6L205.3 511.3L206.0 511.0L206.7 510.6L207.4 510.2L208.1 509.8L208.8 509.2L209.5 508.7L210.2 508.1L210.9 507.4L211.6 506.8L212.3 506.0L213.0 505.3L213.7 504.4L214.4 503.5L215.1 502.4L215.8 501.2L216.5 500.0L217.3 498.7L218.0 497.2L218.7 495.7L219.4 494.0L220.1 492.1L220.8 490.1L221.5 488.0L222.2 485.8L222.9 483.3L223.6 480.6L224.3 477.7L225.0 474.6L225.7 471.4L226.4 468.0L227.1 464.4L227.8 460.7L228.5 457.0L229.2 453.3L229.9 449.4L230.6 445.4L231.3 441.5L232.1 437.8L232.8 434.7L233.5 431.9L234.2 429.4L234.9 427.1L235.6 425.1L236.3 423.3L237.0 421.6L237.7 420.2L238.4 419.0L239.1 418.1L239.8 417.4L240.5 416.7L241.2 416.2L241.9 415.7L242.6 415.2L243.3 414.9L244.0 414.5L244.7 414.1L245.4 413.7L246.1 413.2L246.9 412.6L247.6 411.9L248.3 411.0L249.0 409.8L249.7 408.3L250.4 406.5L251.1 404.6L251.8 402.4L252.5 399.7L253.2 396.6L253.9 393.2L254.6 389.8L255.3 386.0L256.0 382.0L256.7 377.8L257.4 373.9L258.1 369.9L258.8 365.9L259.5 362.0L260.2 358.8L260.9 356.5L261.7 354.5L262.4 352.8L263.1 351.7L263.8 351.6L264.5 352.5L265.2 354.0L265.9 355.9L266.6 358.2L267.3 361.4L268.0 365.5L268.7 370.8L269.4 378.5L270.1 387.7L270.8 397.7L271.5 410.3L272.2 422.8L272.9 432.6L273.6 440.9L274.3 448.4L275.0 455.6L275.7 462.1L276.5 467.9L277.2 473.3L277.9 478.5L278.6 483.3L279.3 488.2L280.0 492.8L280.7 496.7L281.4 499.9L282.1 502.7L282.8 505.1L283.5 507.1L284.2 508.7L284.9 510.2L285.6 511.4L286.3 512.6L287.0 513.5L287.7 514.3L288.4 515.0L289.1 515.6L289.8 516.2L290.5 516.7L291.3 517.2L292.0 517.6L292.7 518.0L293.4 518.3L294.1 518.7L294.8 519.0L295.5 519.3L296.2 519.6L296.9 519.8L297.6 520.1L298.3 520.3L299.0 520.5L299.7 520.7L300.4 520.9L301.1 521.0L301.8 521.2L302.5 521.3L303.2 521.5L303.9 521.6L304.6 521.8L305.3 521.9L306.1 522.1L306.8 522.2L307.5 522.3L308.2 522.4L308.9 522.6L309.6 522.7L310.3 522.8L311.0 522.9L311.7 523.0L312.4 523.1L313.1 523.2L313.8 523.3L314.5 523.4L315.2 523.5L315.9 523.6L316.6 523.7L317.3 523.8L318.0 523.9L318.7 524.0L319.4 524.1L320.1 524.2L320.9 524.3L321.6 524.4L322.3 524.5L323.0 524.6L323.7 524.7L324.4 524.8L325.1 524.9L325.8 525.0L326.5 525.0L327.2 525.1L327.9 525.2" stroke="#22e622"/>
<path d="M54.9 528.5L55.6 525.5L56.3 521.9L57.0 517.4L57.7 512.1L58.5 506.4L59.2 500.8L59.9 495.7L60.6 490.6L61.3 485.6L62.0 481.0L62.7 477.1L63.4 474.0L64.1 470.9L64.8 468.1L65.5 465.9L66.2 464.5L66.9 464.4L67.6 466.1L68.3 469.1L69.0 472.5L69.7 475.4L70.4 477.2L71.1 479.0L71.8 480.6L72.5 482.0L73.3 483.0L74.0 483.4L74.7 482.7L75.4 480.5L76.1 477.2L76.8 473.1L77.5 468.6L78.2 464.0L78.9 459.6L79.6 455.3L80.3 450.4L81.0 445.2L81.7 439.8L82.4 434.4L83.1 428.9L83.8 423.6L84.5 418.7L85.2 413.3L85.9 407.4L86.6 401.6L87.3 396.5L88.1 393.0L88.8 391.6L89.5 393.0L90.2 396.9L90.9 402.6L91.6 409.6L92.3 417.3L93.0 425.2L93.7 432.7L94.4 439.4L95.1 447.1L95.8 455.3L96.5 462.9L97.2 468.7L97.9 471.9L98.6 474.1L99.3 475.9L100.0 477.4L100.7 478.7L101.4 479.9L102.1 481.0L102.8 482.0L103.6 483.0L104.3 484.1L105.0 485.1L105.7 486.1L106.4 487.0L107.1 487.8L107.8 488.6L108.5 489.4L109.2 490.3L109.9 491.2L110.6 492.1L111.3 493.1L112.0 494.2L112.7 495.4L113.4 496.6L114.1 497.9L114.8 499.3L115.5 500.6L116.2 501.9L116.9 503.1L117.6 504.2L118.4 505.2L119.1 506.1L119.8 507.0L120.5 507.9L121.2 508.8L121.9 509.6L122.6 510.3L123.3 511.0L124.0 511.5L124.7 512.0L125.4 512.3L126.1 512.6L126.8 512.9L127.5 513.2L128.2 513.5L128.9 513.7L129.6 513.9L130.3 514.1L131.0 514.2L131.7 514.4L132.4 514.5L133.2 514.6L133.9 514.6L134.6 514.7L135.3 514.8L136.0 514.9L136.7 514.9L137.4 515.0L138.1 515.0L138.8 515.1L139.5 515.2L140.2 515.2L140.9 515.3L141.6 515.3L142.3 515.4L143.0 515.4L143.7 515.5L144.4 515.5L145.1 515.6L145.8 515.6L146.5 515.7L147.2 515.7L148.0 515.8L148.7 515.8L149.4 515.8L150.1 515.9L150.8 515.9L151.5 515.9L152.2 516.0L152.9 516.0L153.6 516.0L154.3 516.0L155.0 516.1L155.7 516.1L156.4 516.1L157.1 516.1L157.8 516.1L158.5 516.1L159.2 516.2L159.9 516.2L160.6 516.2L161.3 516.2L162.0 516.2L162.8 516.2L163.5 516.2L164.2 516.2L164.9 516.2L165.6 516.2L166.3 516.2L167.0 516.2L167.7 516.2L168.4 516.2L169.1 516.2L169.8 516.2L170.5 516.2L171.2 516.2L171.9 516.2L172.6 516.2L173.3 516.2L174.0 516.2L174.7 516.2L175.4 516.2L176.1 516.2L176.8 516.2L177.6 516.2L178.3 516.2L179.0 516.1L179.7 516.1L180.4 516.0L181.1 515.9L181.8 515.8L182.5 515.7L183.2 515.6L183.9 515.5L184.6 515.3L185.3 515.2L186.0 515.1L186.7 515.0L187.4 514.8L188.1 514.7L188.8 514.6L189.5 514.5L190.2 514.3L190.9 514.2L191.6 514.1L192.4 514.0L193.1 513.8L193.8 513.7L194.5 513.5L195.2 513.4L195.9 513.2L196.6 513.0L197.3 512.9L198.0 512.7L198.7 512.5L199.4 512.3L200.1 512.1L200.8 511.8L201.5 511.6L202.2 511.3L202.9 511.0L203.6 510.7L204.3 510.4L205.0 510.0L205.7 509.6L206.4 509.2L207.2 508.7L207.9 508.1L208.6 507.5L209.3 506.8L210.0 506.0L210.7 505.2L211.4 504.4L212.1 503.5L212.8 502.6L213.5 501.5L214.2 500.4L214.9 499.0L215.6 497.6L216.3 496.1L217.0 494.4L217.7 492.7L218.4 490.8L219.1 488.7L219.8 486.4L220.5 484.0L221.2 481.4L222.0 478.6L222.7 475.7L223.4 472.4L224.1 468.7L224.8 464.9L225.5 461.0L226.2 456.8L226.9 452.4L227.6 447.8L228.3 443.1L229.0 438.4L229.7 433.7L230.4 428.7L231.1 423.7L231.8 419.0L232.5 414.8L233.2 411.2L233.9 407.9L234.6 404.9L235.3 402.3L236.0 400.0L236.8 397.8L237.5 395.9L238.2 394.3L238.9 393.0L239.6 392.0L240.3 391.2L241.0 390.5L241.7 389.8L242.4 389.2L243.1 388.7L243.8 388.3L244.5 387.8L245.2 387.2L245.9 386.6L246.6 385.9L247.3 385.1L248.0 384.0L248.7 382.7L249.4 380.9L250.1 378.8L250.8 376.4L251.6 373.8L252.3 370.6L253.0 366.8L253.7 362.7L254.4 358.4L255.1 353.9L255.8 348.9L256.5 343.7L257.2 338.6L257.9 333.8L258.6 328.7L259.3 323.7L260.0 319.4L260.7 316.1L261.4 313.5L262.1 311.2L262.8 309.5L263.5 308.9L264.2 309.6L264.9 311.3L265.6 313.5L266.4 316.1L267.1 319.8L267.8 324.5L268.5 330.4L269.2 339.1L269.9 350.1L270.6 362.2L271.3 376.9L272.0 393.1L272.7 406.5L273.4 417.3L274.1 427.0L274.8 436.2L275.5 444.6L276.2 452.1L276.9 459.0L277.6 465.6L278.3 471.8L279.0 477.8L279.7 483.7L280.4 489.0L281.2 493.2L281.9 496.8L282.6 500.0L283.3 502.7L284.0 504.8L284.7 506.7L285.4 508.3L286.1 509.8L286.8 511.0L287.5 512.0L288.2 512.9L288.9 513.7L289.6 514.4L290.3 515.1L291.0 515.7L291.7 516.2L292.4 516.7L293.1 517.1L293.8 517.6L294.5 518.0L295.2 518.3L296.0 518.7L296.7 519.0L297.4 519.3L298.1 519.6L298.8 519.8L299.5 520.1L300.2 520.3L300.9 520.5L301.6 520.7L302.3 520.8L303.0 521.0L303.7 521.2L304.4 521.4L305.1 521.5L305.8 521.7L306.5 521.8L307.2 522.0L307.9 522.1L308.6 522.2L309.3 522.4L310.0 522.5L310.8 522.6L311.5 522.8L312.2 522.9L312.9 523.0L313.6 523.1L314.3 523.2L315.0 523.4L315.7 523.5L316.4 523.6L317.1 523.7L317.8 523.8L318.5 523.9L319.2 524.0L319.9 524.1L320.6 524.2L321.3 524.3L322.0 524.4L322.7 524.5L323.4 524.6L324.1 524.7L324.8 524.8L325.6 524.9L326.3 525.0L327.0 525.1L327.7 525.2" stroke="#e8161c"/>
</g>
<rect x="46.0" y="295.7" width="281.9" height="229.5" fill="none" stroke="#000" stroke-width="1.6"/>
<path d="M46.0 525.2V529.2M69.5 525.2V527.7M93.0 525.2V529.2M116.5 525.2V527.7M140.0 525.2V529.2M163.5 525.2V527.7M186.9 525.2V529.2M210.4 525.2V527.7M233.9 525.2V529.2M257.4 525.2V527.7M280.9 525.2V529.2M304.4 525.2V527.7M327.9 525.2V529.2M46.0 525.2H42.0M46.0 492.4H42.0M46.0 459.6H42.0M46.0 426.9H42.0M46.0 394.1H42.0M46.0 361.3H42.0M46.0 328.5H42.0M46.0 295.7H42.0M46.0 508.8H43.5M46.0 476.0H43.5M46.0 443.3H43.5M46.0 410.5H43.5M46.0 377.7H43.5M46.0 344.9H43.5M46.0 312.1H43.5" stroke="#000" stroke-width="1.5" fill="none"/>
<text x="46.0" y="541.0" font-size="9.50" font-weight="bold" text-anchor="middle" fill="#000" >200</text>
<text x="93.0" y="541.0" font-size="9.50" font-weight="bold" text-anchor="middle" fill="#000" >300</text>
<text x="140.0" y="541.0" font-size="9.50" font-weight="bold" text-anchor="middle" fill="#000" >400</text>
<text x="186.9" y="541.0" font-size="9.50" font-weight="bold" text-anchor="middle" fill="#000" >500</text>
<text x="233.9" y="541.0" font-size="9.50" font-weight="bold" text-anchor="middle" fill="#000" >600</text>
<text x="280.9" y="541.0" font-size="9.50" font-weight="bold" text-anchor="middle" fill="#000" >700</text>
<text x="327.9" y="541.0" font-size="9.50" font-weight="bold" text-anchor="middle" fill="#000" >800</text>
<text x="38.5" y="528.5" font-size="9.50" font-weight="bold" text-anchor="end" fill="#000" >0.0</text>
<text x="38.5" y="495.7" font-size="9.50" font-weight="bold" text-anchor="end" fill="#000" >0.2</text>
<text x="38.5" y="462.9" font-size="9.50" font-weight="bold" text-anchor="end" fill="#000" >0.4</text>
<text x="38.5" y="430.2" font-size="9.50" font-weight="bold" text-anchor="end" fill="#000" >0.6</text>
<text x="38.5" y="397.4" font-size="9.50" font-weight="bold" text-anchor="end" fill="#000" >0.8</text>
<text x="38.5" y="364.6" font-size="9.50" font-weight="bold" text-anchor="end" fill="#000" >1.0</text>
<text x="38.5" y="331.8" font-size="9.50" font-weight="bold" text-anchor="end" fill="#000" >1.2</text>
<text x="38.5" y="299.0" font-size="9.50" font-weight="bold" text-anchor="end" fill="#000" >1.4</text>
<text x="186.0" y="562.3" font-size="21.00" font-weight="bold" text-anchor="middle" fill="#000" textLength="157.5" lengthAdjust="spacingAndGlyphs" >Wavelength (nm)</text>
<text x="0" y="0" font-size="21.00" font-weight="bold" text-anchor="middle" textLength="151.8" lengthAdjust="spacingAndGlyphs" transform="translate(21.0 419.2) rotate(-90)">Absorbance(a.u)</text>
<text x="2.4" y="306.0" font-size="31.00" font-weight="bold" text-anchor="start" fill="#000" >C</text>
<text x="141.6" y="310.2" font-size="13.5" font-weight="bold" textLength="100.5" lengthAdjust="spacingAndGlyphs">MB + SP-AgNPs</text>
<rect x="283.6" y="295.7" width="44.3" height="70.1" fill="#fff" stroke="#000" stroke-width="1.5"/>
<path d="M284.4 301.0H302.9" stroke="#e8161c" stroke-width="1.8"/>
<text x="304.2" y="303.9" font-size="8.00" font-weight="bold" text-anchor="start" fill="#000" >0 min</text>
<path d="M284.4 311.0H302.9" stroke="#22e622" stroke-width="1.8"/>
<text x="304.2" y="313.9" font-size="8.00" font-weight="bold" text-anchor="start" fill="#000" >15 min</text>
<path d="M284.4 321.0H302.9" stroke="#e622e6" stroke-width="1.8"/>
<text x="304.2" y="323.8" font-size="8.00" font-weight="bold" text-anchor="start" fill="#000" >30 min</text>
<path d="M284.4 330.9H302.9" stroke="#7a1c8c" stroke-width="1.8"/>
<text x="304.2" y="333.8" font-size="8.00" font-weight="bold" text-anchor="start" fill="#000" >45 min</text>
<path d="M284.4 340.9H302.9" stroke="#6a8ae6" stroke-width="1.8"/>
<text x="304.2" y="343.8" font-size="8.00" font-weight="bold" text-anchor="start" fill="#000" >60 min</text>
<path d="M284.4 350.9H302.9" stroke="#888020" stroke-width="1.8"/>
<text x="304.2" y="353.8" font-size="8.00" font-weight="bold" text-anchor="start" fill="#000" >75 min</text>
<path d="M284.4 360.9H302.9" stroke="#1c1cd6" stroke-width="1.8"/>
<text x="304.2" y="363.8" font-size="8.00" font-weight="bold" text-anchor="start" fill="#000" >90 min</text>
<defs><linearGradient id="blC" x1="0" x2="1" y1="0" y2="0.15"><stop offset="0" stop-color="#1c84d6"/><stop offset="0.28" stop-color="#0f60b6"/><stop offset="0.5" stop-color="#1a7cd0"/><stop offset="0.75" stop-color="#2292e0"/><stop offset="1" stop-color="#1c88da"/></linearGradient><linearGradient id="grC" x1="0" x2="0" y1="0" y2="1"><stop offset="0" stop-color="#74b8c2"/><stop offset="0.08" stop-color="#509fac"/><stop offset="0.85" stop-color="#509fac"/><stop offset="1" stop-color="#3e8a98"/></linearGradient></defs><rect x="298.9" y="377.1" width="22.4" height="39.5" fill="url(#blC)"/><rect x="308.4" y="425.8" width="4.2" height="18.9" fill="#000"/><path d="M305.9 444.2H315.1L310.5 450.8Z" fill="#000"/><rect x="301.6" y="457.4" width="20.5" height="42.1" fill="url(#grC)"/><rect x="308.4" y="461.6" width="1" height="18.9" fill="#74b8c2" opacity="0.4"/><rect x="314.3" y="461.6" width="1" height="18.9" fill="#74b8c2" opacity="0.4"/>
<rect x="118.4" y="325.5" width="104.1" height="84.7" fill="#fff" stroke="#1a1a1a" stroke-width="1.3"/><path d="M123.5 410.2V412.7M133.9 410.2V411.7M144.4 410.2V412.7M154.8 410.2V411.7M165.2 410.2V412.7M175.7 410.2V411.7M186.1 410.2V412.7M196.6 410.2V411.7M207.0 410.2V412.7M217.4 410.2V411.7M118.4 325.5H115.9M118.4 335.5H115.9M118.4 345.5H115.9M118.4 355.5H115.9M118.4 365.6H115.9M118.4 375.6H115.9M118.4 385.6H115.9M118.4 395.6H115.9M118.4 405.6H115.9" stroke="#1a1a1a" stroke-width="1" fill="none"/><text x="123.5" y="418.0" font-size="5.6" font-weight="bold" text-anchor="middle" fill="#222">0</text><text x="144.4" y="418.0" font-size="5.6" font-weight="bold" text-anchor="middle" fill="#222">20</text><text x="165.2" y="418.0" font-size="5.6" font-weight="bold" text-anchor="middle" fill="#222">40</text><text x="186.1" y="418.0" font-size="5.6" font-weight="bold" text-anchor="middle" fill="#222">60</text><text x="207.0" y="418.0" font-size="5.6" font-weight="bold" text-anchor="middle" fill="#222">80</text><text x="114.9" y="327.2" font-size="4.7" font-weight="bold" text-anchor="end" fill="#222">0.2</text><text x="114.9" y="337.2" font-size="4.7" font-weight="bold" text-anchor="end" fill="#222">0.0</text><text x="114.9" y="347.2" font-size="4.7" font-weight="bold" text-anchor="end" fill="#222">-0.2</text><text x="114.9" y="357.2" font-size="4.7" font-weight="bold" text-anchor="end" fill="#222">-0.4</text><text x="114.9" y="367.2" font-size="4.7" font-weight="bold" text-anchor="end" fill="#222">-0.6</text><text x="114.9" y="377.3" font-size="4.7" font-weight="bold" text-anchor="end" fill="#222">-0.8</text><text x="114.9" y="387.3" font-size="4.7" font-weight="bold" text-anchor="end" fill="#222">-1.0</text><text x="114.9" y="397.3" font-size="4.7" font-weight="bold" text-anchor="end" fill="#222">-1.2</text><text x="114.9" y="407.3" font-size="4.7" font-weight="bold" text-anchor="end" fill="#222">-1.4</text><path d="M123.5 335.5 L139.2 346.5 L154.8 352.0 L170.5 364.0 L186.1 371.6 L201.8 377.1 L217.4 402.1" stroke="#333" stroke-width="1" fill="none"/><path d="M123.5 334.0L217.4 394.6" stroke="#e8161c" stroke-width="1.7"/><circle cx="123.5" cy="335.5" r="1.6" fill="#30e030"/><circle cx="139.2" cy="346.5" r="1.6" fill="#30e030"/><circle cx="154.8" cy="352.0" r="1.6" fill="#30e030"/><circle cx="170.5" cy="364.0" r="1.6" fill="#30e030"/><circle cx="186.1" cy="371.6" r="1.6" fill="#30e030"/><circle cx="201.8" cy="377.1" r="1.6" fill="#30e030"/><circle cx="217.4" cy="402.1" r="1.6" fill="#30e030"/><text x="128.7" y="402.2" font-size="15.0" font-weight="normal" fill="#1a1a1a" textLength="74.4" lengthAdjust="spacingAndGlyphs">R<tspan font-size="9.3" dy="-5.4">2</tspan><tspan dy="5.4"> = 0.95547</tspan></text><text x="0" y="0" font-size="10.0" font-weight="bold" text-anchor="middle" fill="#1a1a1a" textLength="37.0" lengthAdjust="spacingAndGlyphs" transform="translate(103.5 368.6) rotate(-90)">ln(A<tspan font-size="5.5" dy="1.8">t</tspan><tspan dy="-1.8">/A</tspan><tspan font-size="5.5" dy="1.8">0</tspan><tspan dy="-1.8">)</tspan></text><text x="171.3" y="429.0" font-size="10.0" font-weight="bold" text-anchor="middle" fill="#1a1a1a" textLength="20.8" lengthAdjust="spacingAndGlyphs">Time</text>
<rect x="394.6" y="298.4" width="286.4" height="230.6" fill="none" stroke="#000" stroke-width="1.6"/>
<path d="M399.4 528.3H405.4" stroke="#4a4a4a" stroke-width="1"/>
<rect x="400.0" y="525.9" width="4.8" height="4.8" fill="#4a4e52"/>
<path d="M411.6 529.0H417.6" stroke="#4a4a4a" stroke-width="1"/>
<circle cx="414.6" cy="529.0" r="2.6" fill="#4a4e52"/>
<path d="M423.8 528.5H429.8" stroke="#4a4a4a" stroke-width="1"/>
<path d="M424.0 530.3L429.6 530.3L426.8 525.5Z" fill="#4a4e52"/>
<rect x="437.2" y="470.7" width="12.2" height="58.3" fill="#fdc596" stroke="#3e3e3e" stroke-width="1"/>
<path d="M440.3 470.7H446.3" stroke="#4a4a4a" stroke-width="1"/>
<rect x="440.9" y="468.3" width="4.8" height="4.8" fill="#4a4e52"/>
<rect x="449.4" y="493.9" width="12.2" height="35.1" fill="#9dd79b" stroke="#3e3e3e" stroke-width="1"/>
<path d="M452.5 493.9H458.5" stroke="#4a4a4a" stroke-width="1"/>
<circle cx="455.5" cy="493.9" r="2.6" fill="#4a4e52"/>
<rect x="461.6" y="484.3" width="12.2" height="44.7" fill="#bfaed6" stroke="#3e3e3e" stroke-width="1"/>
<path d="M464.7 484.3H470.7" stroke="#4a4a4a" stroke-width="1"/>
<path d="M464.9 486.1L470.5 486.1L467.7 481.3Z" fill="#4a4e52"/>
<rect x="478.1" y="433.8" width="12.2" height="95.2" fill="#fdc596" stroke="#3e3e3e" stroke-width="1"/>
<path d="M481.2 433.8H487.2" stroke="#4a4a4a" stroke-width="1"/>
<rect x="481.8" y="431.4" width="4.8" height="4.8" fill="#4a4e52"/>
<rect x="490.3" y="473.0" width="12.2" height="56.0" fill="#9dd79b" stroke="#3e3e3e" stroke-width="1"/>
<path d="M493.4 473.0H499.4" stroke="#4a4a4a" stroke-width="1"/>
<circle cx="496.4" cy="473.0" r="2.6" fill="#4a4e52"/>
<rect x="502.5" y="464.4" width="12.2" height="64.6" fill="#bfaed6" stroke="#3e3e3e" stroke-width="1"/>
<path d="M505.6 464.4H511.6" stroke="#4a4a4a" stroke-width="1"/>
<path d="M505.8 466.2L511.4 466.2L508.6 461.4Z" fill="#4a4e52"/>
<rect x="519.0" y="401.0" width="12.2" height="128.0" fill="#fdc596" stroke="#3e3e3e" stroke-width="1"/>
<path d="M522.1 401.0H528.1" stroke="#4a4a4a" stroke-width="1"/>
<rect x="522.7" y="398.6" width="4.8" height="4.8" fill="#4a4e52"/>
<rect x="531.2" y="454.7" width="12.2" height="74.3" fill="#9dd79b" stroke="#3e3e3e" stroke-width="1"/>
<path d="M534.3 454.7H540.3" stroke="#4a4a4a" stroke-width="1"/>
<circle cx="537.3" cy="454.7" r="2.6" fill="#4a4e52"/>
<rect x="543.4" y="429.2" width="12.2" height="99.8" fill="#bfaed6" stroke="#3e3e3e" stroke-width="1"/>
<path d="M546.5 429.2H552.5" stroke="#4a4a4a" stroke-width="1"/>
<path d="M546.7 431.0L552.3 431.0L549.5 426.2Z" fill="#4a4e52"/>
<rect x="559.9" y="382.3" width="12.2" height="146.7" fill="#fdc596" stroke="#3e3e3e" stroke-width="1"/>
<path d="M563.0 382.3H569.0" stroke="#4a4a4a" stroke-width="1"/>
<rect x="563.6" y="379.9" width="4.8" height="4.8" fill="#4a4e52"/>
<rect x="572.1" y="430.5" width="12.2" height="98.5" fill="#9dd79b" stroke="#3e3e3e" stroke-width="1"/>
<path d="M575.2 430.5H581.2" stroke="#4a4a4a" stroke-width="1"/>
<circle cx="578.2" cy="430.5" r="2.6" fill="#4a4e52"/>
<rect x="584.3" y="411.4" width="12.2" height="117.6" fill="#bfaed6" stroke="#3e3e3e" stroke-width="1"/>
<path d="M587.4 411.4H593.4" stroke="#4a4a4a" stroke-width="1"/>
<path d="M587.6 413.2L593.2 413.2L590.4 408.4Z" fill="#4a4e52"/>
<rect x="600.8" y="360.7" width="12.2" height="168.3" fill="#fdc596" stroke="#3e3e3e" stroke-width="1"/>
<path d="M603.9 360.7H609.9" stroke="#4a4a4a" stroke-width="1"/>
<rect x="604.5" y="358.3" width="4.8" height="4.8" fill="#4a4e52"/>
<rect x="613.0" y="412.3" width="12.2" height="116.7" fill="#9dd79b" stroke="#3e3e3e" stroke-width="1"/>
<path d="M616.1 412.3H622.1" stroke="#4a4a4a" stroke-width="1"/>
<circle cx="619.1" cy="412.3" r="2.6" fill="#4a4e52"/>
<rect x="625.2" y="398.9" width="12.2" height="130.1" fill="#bfaed6" stroke="#3e3e3e" stroke-width="1"/>
<path d="M628.3 398.9H634.3" stroke="#4a4a4a" stroke-width="1"/>
<path d="M628.5 400.7L634.1 400.7L631.3 395.9Z" fill="#4a4e52"/>
<rect x="641.7" y="331.1" width="12.2" height="197.9" fill="#fdc596" stroke="#3e3e3e" stroke-width="1"/>
<path d="M644.8 331.1H650.8" stroke="#4a4a4a" stroke-width="1"/>
<rect x="645.4" y="328.7" width="4.8" height="4.8" fill="#4a4e52"/>
<rect x="653.9" y="360.2" width="12.2" height="168.8" fill="#9dd79b" stroke="#3e3e3e" stroke-width="1"/>
<path d="M657.0 360.2H663.0" stroke="#4a4a4a" stroke-width="1"/>
<circle cx="660.0" cy="360.2" r="2.6" fill="#4a4e52"/>
<rect x="666.1" y="359.7" width="12.2" height="169.3" fill="#bfaed6" stroke="#3e3e3e" stroke-width="1"/>
<path d="M669.2 359.7H675.2" stroke="#4a4a4a" stroke-width="1"/>
<path d="M669.4 361.5L675.0 361.5L672.2 356.7Z" fill="#4a4e52"/>
<path d="M414.6 529.0V533.0M435.1 529.0V531.5M455.5 529.0V533.0M475.9 529.0V531.5M496.4 529.0V533.0M516.9 529.0V531.5M537.3 529.0V533.0M557.8 529.0V531.5M578.2 529.0V533.0M598.7 529.0V531.5M619.1 529.0V533.0M639.6 529.0V531.5M660.0 529.0V533.0M394.6 482.9H398.6M394.6 436.8H398.6M394.6 390.6H398.6M394.6 344.5H398.6M394.6 505.9H391.6M394.6 459.8H391.6M394.6 413.7H391.6M394.6 367.6H391.6M394.6 321.5H391.6" stroke="#000" stroke-width="1.5" fill="none"/>
<text x="414.6" y="545.0" font-size="9.50" font-weight="bold" text-anchor="middle" fill="#000" >0</text>
<text x="455.5" y="545.0" font-size="9.50" font-weight="bold" text-anchor="middle" fill="#000" >15</text>
<text x="496.4" y="545.0" font-size="9.50" font-weight="bold" text-anchor="middle" fill="#000" >30</text>
<text x="537.3" y="545.0" font-size="9.50" font-weight="bold" text-anchor="middle" fill="#000" >45</text>
<text x="578.2" y="545.0" font-size="9.50" font-weight="bold" text-anchor="middle" fill="#000" >60</text>
<text x="619.1" y="545.0" font-size="9.50" font-weight="bold" text-anchor="middle" fill="#000" >75</text>
<text x="660.0" y="545.0" font-size="9.50" font-weight="bold" text-anchor="middle" fill="#000" >90</text>
<text x="388.5" y="532.3" font-size="9.50" font-weight="bold" text-anchor="end" fill="#000" >0</text>
<text x="388.5" y="486.2" font-size="9.50" font-weight="bold" text-anchor="end" fill="#000" >20</text>
<text x="388.5" y="440.1" font-size="9.50" font-weight="bold" text-anchor="end" fill="#000" >40</text>
<text x="388.5" y="393.9" font-size="9.50" font-weight="bold" text-anchor="end" fill="#000" >60</text>
<text x="388.5" y="347.8" font-size="9.50" font-weight="bold" text-anchor="end" fill="#000" >80</text>
<text x="388.5" y="301.7" font-size="9.50" font-weight="bold" text-anchor="end" fill="#000" >100</text>
<rect x="395.4" y="299.2" width="142.3" height="57.4" fill="#fff" stroke="#c8c8c8" stroke-width="1"/>
<rect x="397.1" y="301.5" width="29.3" height="14.3" fill="#fdc596" stroke="#4a4a4a" stroke-width="1"/>
<rect x="397.1" y="321.5" width="29.3" height="13.5" fill="#9dd79b" stroke="#4a4a4a" stroke-width="1"/>
<rect x="397.1" y="337.5" width="29.3" height="14.0" fill="#bfaed6" stroke="#4a4a4a" stroke-width="1"/>
<text x="430.9" y="314.5" font-size="10.5" font-weight="bold" textLength="105" lengthAdjust="spacingAndGlyphs">MB + NaBH<tspan font-size="8.5" dy="3">4</tspan><tspan dy="-3"> + SP-AgNP</tspan></text>
<text x="429.7" y="333.2" font-size="10.5" font-weight="bold" textLength="63" lengthAdjust="spacingAndGlyphs">MB + SP-AgNP</text>
<text x="429.7" y="349.5" font-size="10.5" font-weight="bold" textLength="55" lengthAdjust="spacingAndGlyphs">MB + NaBH<tspan font-size="8.5" dy="3">4</tspan></text>
<text x="536.2" y="562.6" font-size="21.00" font-weight="bold" text-anchor="middle" fill="#000" textLength="101.5" lengthAdjust="spacingAndGlyphs" >Time (min)</text>
<text x="0" y="0" font-size="21.00" font-weight="bold" text-anchor="middle" textLength="194.5" lengthAdjust="spacingAndGlyphs" transform="translate(368.0 418.2) rotate(-90)">Dye Degradation (%)</text>
<text x="348.6" y="305.0" font-size="30.00" font-weight="bold" text-anchor="start" fill="#000" >D</text>
</svg></body></html>
